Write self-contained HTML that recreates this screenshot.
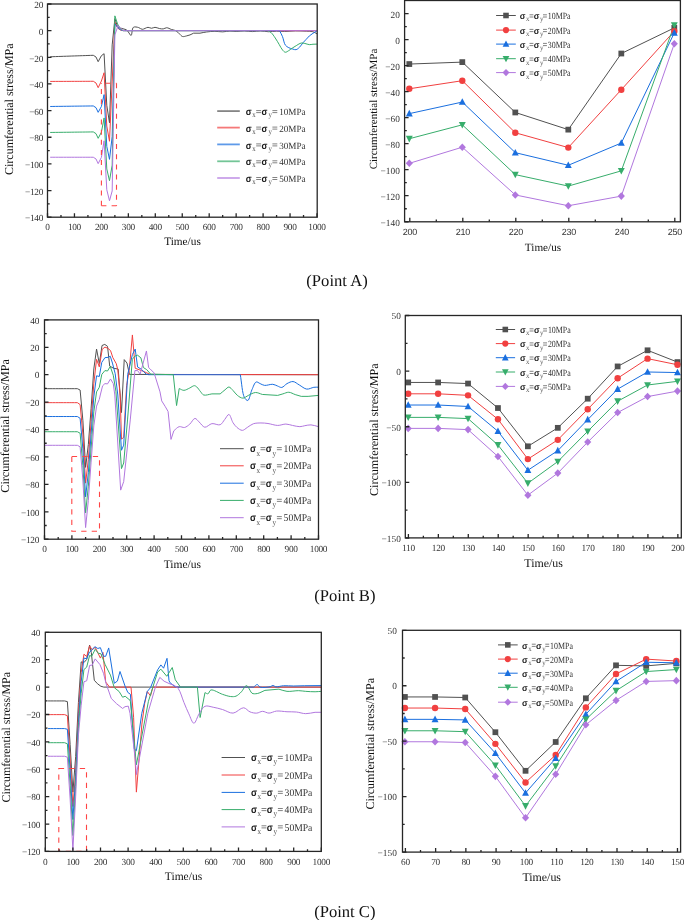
<!DOCTYPE html><html><head><meta charset="utf-8"><style>html,body{margin:0;padding:0;background:#fff;}svg{display:block;text-rendering:geometricPrecision;will-change:transform}</style></head><body>
<svg width="685" height="920" viewBox="0 0 685 920">
<rect width="685" height="920" fill="#fff"/>
<defs>
<clipPath id="cal"><rect x="47.5" y="4" width="269.7" height="213.2"/></clipPath>
<clipPath id="car"><rect x="404.6" y="0.5" width="275.8" height="221.3"/></clipPath>
<clipPath id="cbl"><rect x="44.5" y="319.9" width="274" height="219.3"/></clipPath>
<clipPath id="cbr"><rect x="405.3" y="315.5" width="276" height="222.4"/></clipPath>
<clipPath id="ccl"><rect x="45.3" y="632.3" width="276" height="219.1"/></clipPath>
<clipPath id="ccr"><rect x="402.5" y="630.3" width="278.1" height="221.8"/></clipPath>
</defs>
<path d="M50.2,56.77L52.89,56.68L55.59,56.58L58.28,56.49L60.98,56.4L63.67,56.31L66.37,56.22L69.06,56.13L71.75,56.03L74.45,55.94L77.15,55.85L79.84,55.76L82.53,55.67L85.23,55.58L87.93,55.48L90.62,55.39L93.31,55.3L96.01,57.03L98.17,61.7L101.4,55.7L104.09,53.7L106.79,105.27L109.49,122.86L112.18,44.91L114.88,18.66L117.57,26.65L120.27,28.25L121.21,28.25L126.41,29.72L128.35,31.98C129.27,33.14 130.34,35.6 131.1,35.45C132.15,35.24 131.81,28.45 133.39,27.32C134.64,26.42 137.15,27.18 138.7,27.59C140.03,27.93 140.87,29.23 142.2,29.32C143.87,29.42 146.3,27.38 148,27.32C149.3,27.27 150.33,28.25 151.5,28.25C152.67,28.25 153.77,27.31 155,27.32C156.37,27.33 157.93,28.25 159.34,28.52C160.65,28.77 161.96,29.06 163.2,28.92C164.41,28.78 165.45,27.7 166.7,27.72C168.15,27.74 169.82,28.94 171.39,29.45C172.92,29.96 174.64,30.03 176,30.78C177.36,31.54 178.42,32.98 179.56,33.98C180.58,34.88 181.37,36.18 182.49,36.51C183.61,36.84 185.04,36.25 186.29,35.98C187.55,35.71 188.8,35.38 190.01,34.91C191.24,34.45 192.4,33.76 193.6,33.18L200.01,33.18C202.18,32.78 204.2,32.29 206.51,31.98C209.11,31.64 212.12,31.33 214.86,31.32C217.51,31.3 220.12,31.9 222.68,31.85C225.15,31.8 227.62,31.1 229.95,31.05C232.1,31 233.95,31.45 236.15,31.45C238.67,31.45 241.54,30.89 244.24,30.92C246.93,30.94 249.62,31.58 252.32,31.58C255.02,31.58 257.71,30.89 260.4,30.92C263.1,30.94 265.79,31.67 268.49,31.72C271.18,31.76 273.88,31.23 276.58,31.18C279.27,31.14 281.77,31.47 284.66,31.45C288,31.42 291.85,30.96 295.44,30.92C299.03,30.87 303.05,31.02 306.22,31.18C308.73,31.31 311.04,31.16 312.96,31.72C314.53,32.17 315.65,33.14 317,33.85" fill="none" stroke="#515151" stroke-width="1.0" stroke-linejoin="round" clip-path="url(#cal)"/>
<path d="M50.2,81.42L52.89,81.41L55.59,81.4L58.28,81.39L60.98,81.38L63.67,81.38L66.37,81.37L69.06,81.36L71.75,81.35L74.45,81.34L77.15,81.33L79.84,81.33L82.53,81.32L85.23,81.31L87.93,81.3L90.62,81.29L93.31,81.28L96.01,83.02L98.17,87.68L101.4,81.02L104.09,72.76L106.79,126.06L109.49,141.25L112.18,81.95L114.88,21.99L117.57,27.98L120.27,29.98L122.96,30.65L317,30.65" fill="none" stroke="#F14040" stroke-width="1.0" stroke-linejoin="round" clip-path="url(#cal)"/>
<path d="M50.2,106.47L52.89,106.44L55.59,106.4L58.28,106.37L60.98,106.34L63.67,106.3L66.37,106.27L69.06,106.24L71.75,106.2L74.45,106.17L77.15,106.14L79.84,106.1L82.53,106.07L85.23,106.04L87.93,106L90.62,105.97L93.31,105.94L96.01,107.67L98.17,112.33L101.4,106.47L104.09,94.61L106.79,146.44L109.49,159.37L112.18,136.58L114.88,23.72L117.57,27.32L120.27,29.58L122.96,30.65L279.54,30.65C280.53,32.65 281.6,34.45 282.5,36.65C283.55,39.18 283.95,43.15 285.31,45.04C286.26,46.38 287.55,47.04 288.81,47.71C290.03,48.36 291.49,48.7 292.75,49.04C293.87,49.34 294.92,49.92 295.98,49.7C297.18,49.46 298.38,48.34 299.48,47.31C300.78,46.08 301.9,44.04 303.09,42.64C304.14,41.41 305.18,40.42 306.22,39.31C307.25,38.2 308.17,36.98 309.29,35.98C310.42,34.98 311.69,34.17 312.96,33.31C314.26,32.44 315.65,31.63 317,30.78" fill="none" stroke="#1A6FDF" stroke-width="1.0" stroke-linejoin="round" clip-path="url(#cal)"/>
<path d="M50.2,132.45L52.89,132.42L55.59,132.39L58.28,132.35L60.98,132.32L63.67,132.29L66.37,132.25L69.06,132.22L71.75,132.19L74.45,132.15L77.15,132.12L79.84,132.09L82.53,132.05L85.23,132.02L87.93,131.99L90.62,131.95L93.31,131.92L96.01,133.65L98.17,138.32L101.4,132.19L104.09,117.93L106.79,168.96L109.49,180.69L112.18,165.1L114.88,15.86L117.57,23.99L120.27,28.65L122.96,30.65L267.95,30.65C269.03,31.32 270.13,31.69 271.19,32.65C272.58,33.92 273.93,36.07 275.23,37.98C276.63,40.04 278,42.54 279.27,44.64C280.41,46.52 281.34,48.64 282.5,49.97C283.39,50.98 284.29,52.11 285.31,52.24C286.35,52.36 287.54,51.31 288.7,50.64C290.06,49.85 291.52,48.62 292.91,47.71C294.21,46.85 295.45,46.07 296.79,45.31C298.17,44.52 299.67,43.32 301.1,43.04C302.36,42.8 303.58,43.2 304.87,43.44C306.3,43.71 307.88,44.53 309.29,44.64C310.56,44.74 311.7,44.33 312.96,44.24C314.27,44.15 315.65,44.15 317,44.11" fill="none" stroke="#37AD6B" stroke-width="1.0" stroke-linejoin="round" clip-path="url(#cal)"/>
<path d="M50.2,157.24L52.89,157.24L55.59,157.24L58.28,157.24L60.98,157.24L63.67,157.24L66.37,157.24L69.06,157.24L71.75,157.24L74.45,157.24L77.15,157.24L79.84,157.24L82.53,157.24L85.23,157.24L87.93,157.24L90.62,157.24L93.31,157.24L96.01,158.97L98.17,163.63L101.4,157.37L104.09,140.85L106.79,189.75L109.49,200.81L112.18,190.95L114.88,34.91L118.11,25.45L120.27,27.98L122.96,30.38L125.66,30.65L317,30.65" fill="none" stroke="#B177DE" stroke-width="1.0" stroke-linejoin="round" clip-path="url(#cal)"/>
<path d="M101.4 205.7L101.4 83.2" fill="none" stroke="#FF4545" stroke-width="1.1" stroke-dasharray="5,5.15" stroke-dashoffset="0"/>
<path d="M101.4 205.7L116.5 205.7" fill="none" stroke="#FF4545" stroke-width="1.1" stroke-dasharray="5,5.2" stroke-dashoffset="0"/>
<path d="M116.5 83.2L116.5 205.7" fill="none" stroke="#FF4545" stroke-width="1.1" stroke-dasharray="5,5.15" stroke-dashoffset="0"/>
<path d="M101.4 83.2L116.5 83.2" fill="none" stroke="#FF4545" stroke-width="1.1" stroke-dasharray="5,5.15" stroke-dashoffset="5.85"/>
<polyline points="409.3,64.06 462.3,62.11 515.3,112.46 568.3,129.63 621.3,53.52 674.3,27.89" fill="none" stroke="#515151" stroke-width="1.0" stroke-linejoin="round"/>
<polyline points="409.3,88.78 462.3,80.71 515.3,132.75 568.3,147.58 621.3,89.69 674.3,31.14" fill="none" stroke="#F14040" stroke-width="1.0" stroke-linejoin="round"/>
<polyline points="409.3,113.63 462.3,102.05 515.3,152.66 568.3,165.28 621.3,143.03 674.3,32.83" fill="none" stroke="#1A6FDF" stroke-width="1.0" stroke-linejoin="round"/>
<polyline points="409.3,138.74 462.3,124.82 515.3,174.64 568.3,186.09 621.3,170.87 674.3,25.16" fill="none" stroke="#37AD6B" stroke-width="1.0" stroke-linejoin="round"/>
<polyline points="409.3,163.33 462.3,147.19 515.3,194.94 568.3,205.74 621.3,196.11 674.3,43.76" fill="none" stroke="#B177DE" stroke-width="1.0" stroke-linejoin="round"/>
<rect x="406.42" y="61.18" width="5.76" height="5.76" fill="#515151"/>
<rect x="459.42" y="59.23" width="5.76" height="5.76" fill="#515151"/>
<rect x="512.42" y="109.58" width="5.76" height="5.76" fill="#515151"/>
<rect x="565.42" y="126.75" width="5.76" height="5.76" fill="#515151"/>
<rect x="618.42" y="50.64" width="5.76" height="5.76" fill="#515151"/>
<rect x="671.42" y="25.01" width="5.76" height="5.76" fill="#515151"/>
<circle cx="409.3" cy="88.78" r="3.2" fill="#F14040"/>
<circle cx="462.3" cy="80.71" r="3.2" fill="#F14040"/>
<circle cx="515.3" cy="132.75" r="3.2" fill="#F14040"/>
<circle cx="568.3" cy="147.58" r="3.2" fill="#F14040"/>
<circle cx="621.3" cy="89.69" r="3.2" fill="#F14040"/>
<circle cx="674.3" cy="31.14" r="3.2" fill="#F14040"/>
<path d="M409.3 109.85L412.76 116.44L405.84 116.44Z" fill="#1A6FDF"/>
<path d="M462.3 98.27L465.76 104.86L458.84 104.86Z" fill="#1A6FDF"/>
<path d="M515.3 148.88L518.76 155.47L511.84 155.47Z" fill="#1A6FDF"/>
<path d="M568.3 161.5L571.76 168.09L564.84 168.09Z" fill="#1A6FDF"/>
<path d="M621.3 139.25L624.76 145.85L617.84 145.85Z" fill="#1A6FDF"/>
<path d="M674.3 29.06L677.76 35.65L670.84 35.65Z" fill="#1A6FDF"/>
<path d="M409.3 142.42L412.76 135.86L405.84 135.86Z" fill="#37AD6B"/>
<path d="M462.3 128.5L465.76 121.94L458.84 121.94Z" fill="#37AD6B"/>
<path d="M515.3 178.32L518.76 171.76L511.84 171.76Z" fill="#37AD6B"/>
<path d="M568.3 189.77L571.76 183.21L564.84 183.21Z" fill="#37AD6B"/>
<path d="M621.3 174.55L624.76 167.99L617.84 167.99Z" fill="#37AD6B"/>
<path d="M674.3 28.84L677.76 22.28L670.84 22.28Z" fill="#37AD6B"/>
<path d="M409.3 159.55L412.88 163.33L409.3 167.1L405.72 163.33Z" fill="#B177DE"/>
<path d="M462.3 143.42L465.88 147.19L462.3 150.97L458.72 147.19Z" fill="#B177DE"/>
<path d="M515.3 191.16L518.88 194.94L515.3 198.72L511.72 194.94Z" fill="#B177DE"/>
<path d="M568.3 201.96L571.88 205.74L568.3 209.51L564.72 205.74Z" fill="#B177DE"/>
<path d="M621.3 192.33L624.88 196.11L621.3 199.89L617.72 196.11Z" fill="#B177DE"/>
<path d="M674.3 39.99L677.88 43.76L674.3 47.54L670.72 43.76Z" fill="#B177DE"/>
<path d="M44.5,388.68L47.24,388.68L49.98,388.68L52.72,388.68L55.46,388.68L58.2,388.68L60.94,388.68L63.68,388.68L66.42,388.68L69.16,388.68L71.9,388.68L74.64,388.68L77.38,388.68L80.12,390.06L82.86,420.22L85.6,467.38L88.34,444.62L91.08,408.7L93.82,368.94L96.56,349.06L99.3,363.59L102.04,345.5L104.78,344.4L107.52,346.32L109.71,366.06L113.55,368.26L118.21,369.08L121.49,412.54L124.23,359.62L126.97,363.05L129.44,374.43L318.5,374.7" fill="none" stroke="#515151" stroke-width="1.0" stroke-linejoin="round" clip-path="url(#cbl)"/>
<path d="M44.5,402.67L47.24,402.67L49.98,402.67L52.72,402.67L55.46,402.67L58.2,402.67L60.94,402.67L63.68,402.67L66.42,402.67L69.16,402.67L71.9,402.67L74.64,402.67L77.38,402.67L80.12,404.59L82.86,434.06L85.6,483.15L88.34,459.43L91.08,421.73L93.82,383.47L96.56,359.34L99.3,366.89L102.2,349.34L104.92,347.14L107.79,348.24L110.53,350.57L112.89,357.7L116.29,363.73L117.8,369.9L120.12,394.99L121.49,439.14L123.69,437.35L126.59,385.67L129.17,370.59L132.4,334.94L135.19,368.26L141.5,370.59L146.7,372.78L149.99,374.43L318.5,374.7" fill="none" stroke="#F14040" stroke-width="1.0" stroke-linejoin="round" clip-path="url(#cbl)"/>
<path d="M44.5,416.52L47.24,416.52L49.98,416.52L52.72,416.52L55.46,416.52L58.2,416.52L60.94,416.52L63.68,416.52L66.42,416.52L69.16,416.52L71.9,416.52L74.64,416.52L77.38,416.52L80.12,418.3L82.86,448.87L85.6,496.86L88.34,472.73L91.08,434.48L93.82,396.91L96.56,375.8L99.3,376.48L101.77,362.36L104.92,357.7L108.34,357.29L110.26,356.19L112.45,363.05L115.19,373.74L117.8,394.99L121.49,450.24L123.69,445.17L127.69,374.43L132.4,354.55L135.19,349.06L137.61,367.02L141.5,369.35L146.1,374.15L148.62,374.7L240.3,374.7C241.67,382.29 242.22,393.56 244.41,397.46C245.38,399.19 246.78,400.73 247.81,400.47C249.44,400.08 250.42,393.02 251.92,389.78C253.24,386.92 254.49,382.56 256.19,381.97C257.37,381.55 258.79,383.06 260.14,383.61C261.56,384.2 262.8,385.17 264.52,385.39C266.8,385.68 270.41,384.06 272.74,384.3C274.54,384.48 275.87,385.41 277.4,385.94C278.88,386.46 280.32,387.67 281.78,387.45C283.51,387.19 285.11,384.6 286.99,383.61C288.86,382.64 291.02,381.39 293.02,381.56C295.14,381.73 297.14,383.78 299.32,384.98C301.69,386.29 304.21,388.76 306.72,389.1C309.06,389.4 311.7,387.61 313.84,387.31C315.54,387.08 316.95,387.22 318.5,387.18" fill="none" stroke="#1A6FDF" stroke-width="1.0" stroke-linejoin="round" clip-path="url(#cbl)"/>
<path d="M44.5,431.73L47.24,431.73L49.98,431.73L52.72,431.73L55.46,431.73L58.2,431.73L60.94,431.73L63.68,431.73L66.42,431.73L69.16,431.73L71.9,431.73L74.64,431.73L77.38,431.73L80.12,433.24L82.86,465.73L85.6,512.9L88.34,486.16L91.08,448.87L93.82,411.85L96.56,391.84L99.3,387.31L101.77,374.43L104.92,370.59L107.52,371L110.26,366.47L113.27,375.25L115.9,391.15L121.49,468.61L123.69,462.99L127.52,419.94L132.34,359.21L135.19,355.92L137.61,355.23L140.89,357.84L143.41,367.57L146.7,369.63L150.7,374.15L173.28,374.7L176.57,405.55L179.2,388.55C180.77,389.14 182.26,390.35 183.91,390.33C185.75,390.31 187.91,388.81 189.72,388C191.37,387.25 193.09,385.65 194.38,385.67C195.29,385.68 195.9,386.24 196.71,386.9C197.96,387.93 199.42,390.4 200.68,391.84C201.73,393.03 202.28,394.49 203.69,394.99C205.65,395.68 209.17,394.26 211.91,393.89L220.13,393.89C221.78,392.52 223.5,390.99 225.07,389.78C226.4,388.75 227.62,386.99 228.9,387.04C230.27,387.09 231.67,389.16 233.01,390.47C234.51,391.91 235.71,394.11 237.4,395.4C239.02,396.65 241.03,398.14 242.88,398.14C244.77,398.14 246.61,396.17 248.63,395.26C250.79,394.29 253.18,392.65 255.48,392.52C257.74,392.4 260.05,393.8 262.33,394.44L277.67,395.4C279.41,394.9 281.09,394.4 282.88,393.89C284.79,393.35 286.8,392.17 288.8,392.25C290.91,392.33 293.1,393.88 295.21,394.58C297.24,395.25 299.23,395.77 301.24,396.36L308.09,396.36C311.56,396.04 315.03,395.72 318.5,395.4" fill="none" stroke="#37AD6B" stroke-width="1.0" stroke-linejoin="round" clip-path="url(#cbl)"/>
<path d="M44.5,445.31L47.24,445.31L49.98,445.31L52.72,445.31L55.46,445.31L58.2,445.31L60.94,445.31L63.68,445.31L66.42,445.31L69.16,445.31L71.9,445.31L74.64,445.31L77.38,445.31L80.12,446.81L82.86,479.99L85.6,527.57L88.34,500.42L91.08,462.17L93.82,425.84L96.56,406.1L99.3,399.38L100.29,394.99L102.59,385.81L104.92,383.61L107.52,383.89L110.53,378.95L113.27,383.61L114.81,394.99L120.67,490.14L123.69,481.64L130.26,419.94L134.92,370.59L137.61,370.59L140.13,374.15L146.43,350.98L148.62,367.57L149.99,368.8L154.1,372.92L159.99,391.84L161.69,400.89L165.06,406.23L168.07,411.44L171.01,439.41L173.83,430.77C175.62,429.4 177.3,427.14 179.2,426.66C180.89,426.23 182.81,427.84 184.51,427.48C186.33,427.11 188.07,425.58 189.72,424.19C191.57,422.64 193.24,418.55 194.93,418.43C196.33,418.34 197.57,420.57 199.04,421.86C200.81,423.43 202.65,426.9 204.79,427.21C206.94,427.52 209.39,424.07 211.91,423.64C214.49,423.21 217.96,425.56 220.13,424.74C222.12,423.99 223.2,421.27 224.68,419.53C226.13,417.84 227.61,414.31 228.9,414.46C230.43,414.64 231.53,420.4 233.01,422.69C234.22,424.54 235.31,426.07 236.85,427.35C238.41,428.64 240.56,430.38 242.33,430.36C244.02,430.34 245.54,428.51 247.26,427.48C249.17,426.34 251.06,424.54 253.29,423.78C255.61,422.99 258.46,423 260.96,422.96C263.36,422.92 265.48,423.16 268,423.51C270.98,423.92 274.58,425.38 277.67,425.43C280.52,425.47 283.31,424 285.89,424.06C288.21,424.1 290.21,425 292.47,425.43C294.86,425.88 297.65,426.69 299.87,426.66C301.68,426.64 303.06,425.99 304.8,425.7C306.74,425.38 308.84,424.77 310.99,424.88C313.39,425 316,426.07 318.5,426.66" fill="none" stroke="#B177DE" stroke-width="1.0" stroke-linejoin="round" clip-path="url(#cbl)"/>
<path d="M71.8 456.5H99.5V531.3H71.8Z" fill="none" stroke="#FF4545" stroke-width="1.1" stroke-dasharray="5.3,5.2"/>
<polyline points="408.2,382.45 438.12,382.45 468.04,383.56 497.96,408.04 527.88,446.31 557.8,427.84 587.72,398.69 617.64,366.43 647.56,350.3 677.48,362.09" fill="none" stroke="#515151" stroke-width="1.0" stroke-linejoin="round"/>
<polyline points="408.2,393.8 438.12,393.8 468.04,395.35 497.96,419.27 527.88,459.1 557.8,439.85 587.72,409.26 617.64,378.22 647.56,358.64 677.48,364.76" fill="none" stroke="#F14040" stroke-width="1.0" stroke-linejoin="round"/>
<polyline points="408.2,405.03 438.12,405.03 468.04,406.48 497.96,431.29 527.88,470.22 557.8,450.64 587.72,419.61 617.64,389.12 647.56,371.99 677.48,372.55" fill="none" stroke="#1A6FDF" stroke-width="1.0" stroke-linejoin="round"/>
<polyline points="408.2,417.38 438.12,417.38 468.04,418.6 497.96,444.97 527.88,483.24 557.8,461.55 587.72,431.29 617.64,401.25 647.56,385.01 677.48,381.34" fill="none" stroke="#37AD6B" stroke-width="1.0" stroke-linejoin="round"/>
<polyline points="408.2,428.39 438.12,428.39 468.04,429.62 497.96,456.54 527.88,495.14 557.8,473.12 587.72,442.08 617.64,412.6 647.56,396.58 677.48,391.12" fill="none" stroke="#B177DE" stroke-width="1.0" stroke-linejoin="round"/>
<rect x="405.32" y="379.57" width="5.76" height="5.76" fill="#515151"/>
<rect x="435.24" y="379.57" width="5.76" height="5.76" fill="#515151"/>
<rect x="465.16" y="380.68" width="5.76" height="5.76" fill="#515151"/>
<rect x="495.08" y="405.16" width="5.76" height="5.76" fill="#515151"/>
<rect x="525" y="443.43" width="5.76" height="5.76" fill="#515151"/>
<rect x="554.92" y="424.96" width="5.76" height="5.76" fill="#515151"/>
<rect x="584.84" y="395.81" width="5.76" height="5.76" fill="#515151"/>
<rect x="614.76" y="363.55" width="5.76" height="5.76" fill="#515151"/>
<rect x="644.68" y="347.42" width="5.76" height="5.76" fill="#515151"/>
<rect x="674.6" y="359.21" width="5.76" height="5.76" fill="#515151"/>
<circle cx="408.2" cy="393.8" r="3.2" fill="#F14040"/>
<circle cx="438.12" cy="393.8" r="3.2" fill="#F14040"/>
<circle cx="468.04" cy="395.35" r="3.2" fill="#F14040"/>
<circle cx="497.96" cy="419.27" r="3.2" fill="#F14040"/>
<circle cx="527.88" cy="459.1" r="3.2" fill="#F14040"/>
<circle cx="557.8" cy="439.85" r="3.2" fill="#F14040"/>
<circle cx="587.72" cy="409.26" r="3.2" fill="#F14040"/>
<circle cx="617.64" cy="378.22" r="3.2" fill="#F14040"/>
<circle cx="647.56" cy="358.64" r="3.2" fill="#F14040"/>
<circle cx="677.48" cy="364.76" r="3.2" fill="#F14040"/>
<path d="M408.2 401.26L411.66 407.85L404.74 407.85Z" fill="#1A6FDF"/>
<path d="M438.12 401.26L441.58 407.85L434.66 407.85Z" fill="#1A6FDF"/>
<path d="M468.04 402.7L471.5 409.29L464.58 409.29Z" fill="#1A6FDF"/>
<path d="M497.96 427.51L501.42 434.1L494.5 434.1Z" fill="#1A6FDF"/>
<path d="M527.88 466.45L531.34 473.04L524.42 473.04Z" fill="#1A6FDF"/>
<path d="M557.8 446.87L561.26 453.46L554.34 453.46Z" fill="#1A6FDF"/>
<path d="M587.72 415.83L591.18 422.42L584.26 422.42Z" fill="#1A6FDF"/>
<path d="M617.64 385.35L621.1 391.94L614.18 391.94Z" fill="#1A6FDF"/>
<path d="M647.56 368.21L651.02 374.81L644.1 374.81Z" fill="#1A6FDF"/>
<path d="M677.48 368.77L680.94 375.36L674.02 375.36Z" fill="#1A6FDF"/>
<path d="M408.2 421.06L411.66 414.5L404.74 414.5Z" fill="#37AD6B"/>
<path d="M438.12 421.06L441.58 414.5L434.66 414.5Z" fill="#37AD6B"/>
<path d="M468.04 422.28L471.5 415.72L464.58 415.72Z" fill="#37AD6B"/>
<path d="M497.96 448.65L501.42 442.09L494.5 442.09Z" fill="#37AD6B"/>
<path d="M527.88 486.92L531.34 480.36L524.42 480.36Z" fill="#37AD6B"/>
<path d="M557.8 465.23L561.26 458.67L554.34 458.67Z" fill="#37AD6B"/>
<path d="M587.72 434.97L591.18 428.41L584.26 428.41Z" fill="#37AD6B"/>
<path d="M617.64 404.93L621.1 398.37L614.18 398.37Z" fill="#37AD6B"/>
<path d="M647.56 388.69L651.02 382.13L644.1 382.13Z" fill="#37AD6B"/>
<path d="M677.48 385.02L680.94 378.46L674.02 378.46Z" fill="#37AD6B"/>
<path d="M408.2 424.62L411.78 428.39L408.2 432.17L404.62 428.39Z" fill="#B177DE"/>
<path d="M438.12 424.62L441.7 428.39L438.12 432.17L434.54 428.39Z" fill="#B177DE"/>
<path d="M468.04 425.84L471.62 429.62L468.04 433.39L464.46 429.62Z" fill="#B177DE"/>
<path d="M497.96 452.76L501.54 456.54L497.96 460.32L494.38 456.54Z" fill="#B177DE"/>
<path d="M527.88 491.37L531.46 495.14L527.88 498.92L524.3 495.14Z" fill="#B177DE"/>
<path d="M557.8 469.34L561.38 473.12L557.8 476.89L554.22 473.12Z" fill="#B177DE"/>
<path d="M587.72 438.3L591.3 442.08L587.72 445.85L584.14 442.08Z" fill="#B177DE"/>
<path d="M617.64 408.82L621.22 412.6L617.64 416.37L614.06 412.6Z" fill="#B177DE"/>
<path d="M647.56 392.8L651.14 396.58L647.56 400.35L643.98 396.58Z" fill="#B177DE"/>
<path d="M677.48 387.35L681.06 391.12L677.48 394.9L673.9 391.12Z" fill="#B177DE"/>
<path d="M48.06,700.93L50.82,700.93L53.58,700.93L56.34,700.93L59.1,700.93L61.86,700.93L64.62,700.93L67.38,701.62L70.14,744.48L72.9,792.13L75.66,756.53L78.42,702.57L81.18,661.9L83.94,662.59L86.7,659.44L89.6,645.06L91.31,652.45L94.29,680.25L97.41,683.68L100.89,686.28L103.81,687.1L321.3,687.1" fill="none" stroke="#515151" stroke-width="1.0" stroke-linejoin="round" clip-path="url(#ccl)"/>
<path d="M48.06,714.62L50.82,714.62L53.58,714.62L56.34,714.62L59.1,714.62L61.86,714.62L64.62,714.62L67.38,715.72L70.14,758.86L72.9,806.51L75.66,772.55L78.42,713.8L81.18,672.58L83.94,654.23L86.7,656.56L89.6,645.88L92.19,649.85L95.2,647.25L100.39,658.07L102.98,652.45L105.69,682.03L109.61,687.1L131,687.1L133.62,717.23L136.38,792.13L139.14,758.31L141.9,724.07L144.66,703.53L147.31,691.48L150.51,695.86L152.94,687.1L321.3,687.1" fill="none" stroke="#F14040" stroke-width="1.0" stroke-linejoin="round" clip-path="url(#ccl)"/>
<path d="M48.06,728.59L50.82,728.59L53.58,728.59L56.34,728.59L59.1,728.59L61.86,728.59L64.62,728.59L67.38,729.28L70.14,770.36L72.9,819.52L75.66,776.66L78.42,722.29L81.18,681.76L83.94,658.07L86.7,658.75L89.1,652.87L94.79,646.7L97.8,648.48L100.39,647.66L103.51,656.29L105.69,656.29L108.7,647.94L114.3,683.27L117.39,681.07L120.01,671.49L125.06,686.14L127.8,692.44L130.39,694.22L134.2,748.86L136.38,750.78L141.79,713.26L147.31,691.48L150.51,687.65L157.6,669.85L160.89,664.92L163.59,668.2L167.02,658.34L169,680.66L170,682.72L174.99,686.55L177.78,687.1L253.68,687.1C254.88,686.23 256.18,684.43 257.27,684.5C258.28,684.56 258.67,686.59 260.03,687.1C262.26,687.93 267.95,687.23 270.24,686.69C271.49,686.4 272.08,685.44 273,685.46C273.92,685.48 274.57,686.63 275.76,686.83C277.65,687.13 280.73,685.89 283.49,685.73C286.65,685.55 290.23,686 293.7,686C297.31,686.01 301.06,685.82 304.74,685.73L321.3,685.59" fill="none" stroke="#1A6FDF" stroke-width="1.0" stroke-linejoin="round" clip-path="url(#ccl)"/>
<path d="M48.06,742.7L50.82,742.7L53.58,742.7L56.34,742.7L59.1,742.7L61.86,742.7L64.62,742.7L67.38,743.79L70.14,785.29L72.9,835.54L75.66,786.38L78.42,728.73L81.18,693.26L83.94,669.57L86.7,667.11L89.6,655.47L91.7,656.29L95.2,649.3L98.29,653.28L100.89,653.69L105.19,664.64L110.41,675.05L114.3,687.65L119.1,691.48L122.61,697.23L125.2,696.27L130,700.25L130.39,701.34L135.91,759.95L136.38,764.74L148.41,701.34L157.6,672.04L160.89,669.16L166.8,676.28L172.26,667.52L175.3,679.84L180.51,687.1L197.38,687.1L200.11,717.5L204.99,692.58C206,692.99 207.09,694.06 208,693.81C209.11,693.51 209.38,690.42 210.9,689.98C213.35,689.26 219.04,693.21 222.6,694.36C225.52,695.3 228.26,696.32 230.69,696.55C232.63,696.73 234.35,696.79 236.02,696.14C237.88,695.41 239.55,693.65 241.2,692.03C243.06,690.21 244.94,685.56 246.5,685.59C247.81,685.62 249.02,688.85 250.01,690.25C250.78,691.35 250.98,692.68 252,693.26C253.23,693.97 255.39,693.86 257.27,693.54C259.62,693.13 262.36,691.44 264.91,690.39L278.91,689.15C281.6,689.88 284.02,691.04 286.99,691.35C290.51,691.71 295.29,690.59 298.7,690.66C301.33,690.71 303.2,691.17 305.71,691.35C308.6,691.55 312.28,691.79 315.09,691.76C317.37,691.73 319.23,691.48 321.3,691.35" fill="none" stroke="#37AD6B" stroke-width="1.0" stroke-linejoin="round" clip-path="url(#ccl)"/>
<path d="M48.06,756.25L50.82,756.25L53.58,756.25L56.34,756.25L59.1,756.25L61.86,756.25L64.62,756.25L67.38,757.21L70.14,798.98L72.9,850.2L75.66,796.38L78.42,735.3L81.18,705.18L83.94,681.76L86.7,680.8L89.6,665.46L92.19,665.05L95.2,658.89L100,664.64L103.51,673.27L106.1,683.68L111.29,698.47L116.51,703.67L122.61,708.46L125.01,706.68L128.29,706.13L130,713.26L135.28,759.95L136.38,774.6L147.81,713.26L155.4,687.1L159.81,677.38L164.09,681.21L170,683.95L173.5,685.05C175.07,686.19 176.77,686.66 178.19,688.47C180.5,691.41 182.13,698.15 183.99,702.57C185.66,706.54 187.11,710.26 188.82,713.8C190.42,717.13 192.18,723.24 193.9,723.25C195.64,723.26 197.27,716.58 199.2,713.67C200.99,710.96 202.55,707.29 204.99,706.27C207.28,705.32 210.38,706.72 213.19,707.23C216.24,707.78 219.4,708.62 222.6,709.56C226.02,710.56 229.64,713.36 233.09,713.12C236.65,712.86 240.57,707.63 243.61,707.78C246.04,707.9 247.76,711 250.01,711.89C252.14,712.73 254.58,713.24 256.72,713.12C258.73,713 260.52,711.37 262.51,711.34C264.61,711.31 266.76,713.12 269,713.12C271.41,713.12 273.77,711.34 276.51,711.06C279.69,710.74 283.59,711.59 286.99,711.75C290.21,711.9 293.29,711.7 296.4,712.02C299.53,712.34 302.59,713.62 305.71,713.67C308.82,713.71 311.96,712.75 315.09,712.3L321.3,712.3" fill="none" stroke="#B177DE" stroke-width="1.0" stroke-linejoin="round" clip-path="url(#ccl)"/>
<path d="M58.8 768.5H86.5V851.4H58.8Z" fill="none" stroke="#FF4545" stroke-width="1.1" stroke-dasharray="5.3,5.2"/>
<polyline points="404.9,696.95 435.06,696.95 465.22,697.51 495.38,732.22 525.54,770.81 555.7,741.98 585.86,698.28 616.02,665.34 646.18,665.9 676.34,663.35" fill="none" stroke="#515151" stroke-width="1.0" stroke-linejoin="round"/>
<polyline points="404.9,708.04 435.06,708.04 465.22,708.93 495.38,743.86 525.54,782.45 555.7,754.95 585.86,707.38 616.02,673.99 646.18,659.13 676.34,661.02" fill="none" stroke="#F14040" stroke-width="1.0" stroke-linejoin="round"/>
<polyline points="404.9,719.35 435.06,719.35 465.22,719.91 495.38,753.18 525.54,792.99 555.7,758.28 585.86,714.25 616.02,681.42 646.18,662.24 676.34,662.79" fill="none" stroke="#1A6FDF" stroke-width="1.0" stroke-linejoin="round"/>
<polyline points="404.9,730.78 435.06,730.78 465.22,731.66 495.38,765.27 525.54,805.97 555.7,766.15 585.86,719.46 616.02,690.74 646.18,671.55 676.34,669.56" fill="none" stroke="#37AD6B" stroke-width="1.0" stroke-linejoin="round"/>
<polyline points="404.9,741.75 435.06,741.75 465.22,742.53 495.38,776.36 525.54,817.83 555.7,774.25 585.86,724.79 616.02,700.39 646.18,681.42 676.34,680.65" fill="none" stroke="#B177DE" stroke-width="1.0" stroke-linejoin="round"/>
<rect x="402.02" y="694.07" width="5.76" height="5.76" fill="#515151"/>
<rect x="432.18" y="694.07" width="5.76" height="5.76" fill="#515151"/>
<rect x="462.34" y="694.63" width="5.76" height="5.76" fill="#515151"/>
<rect x="492.5" y="729.34" width="5.76" height="5.76" fill="#515151"/>
<rect x="522.66" y="767.93" width="5.76" height="5.76" fill="#515151"/>
<rect x="552.82" y="739.1" width="5.76" height="5.76" fill="#515151"/>
<rect x="582.98" y="695.4" width="5.76" height="5.76" fill="#515151"/>
<rect x="613.14" y="662.46" width="5.76" height="5.76" fill="#515151"/>
<rect x="643.3" y="663.02" width="5.76" height="5.76" fill="#515151"/>
<rect x="673.46" y="660.47" width="5.76" height="5.76" fill="#515151"/>
<circle cx="404.9" cy="708.04" r="3.2" fill="#F14040"/>
<circle cx="435.06" cy="708.04" r="3.2" fill="#F14040"/>
<circle cx="465.22" cy="708.93" r="3.2" fill="#F14040"/>
<circle cx="495.38" cy="743.86" r="3.2" fill="#F14040"/>
<circle cx="525.54" cy="782.45" r="3.2" fill="#F14040"/>
<circle cx="555.7" cy="754.95" r="3.2" fill="#F14040"/>
<circle cx="585.86" cy="707.38" r="3.2" fill="#F14040"/>
<circle cx="616.02" cy="673.99" r="3.2" fill="#F14040"/>
<circle cx="646.18" cy="659.13" r="3.2" fill="#F14040"/>
<circle cx="676.34" cy="661.02" r="3.2" fill="#F14040"/>
<path d="M404.9 715.58L408.36 722.17L401.44 722.17Z" fill="#1A6FDF"/>
<path d="M435.06 715.58L438.52 722.17L431.6 722.17Z" fill="#1A6FDF"/>
<path d="M465.22 716.13L468.68 722.72L461.76 722.72Z" fill="#1A6FDF"/>
<path d="M495.38 749.4L498.84 755.99L491.92 755.99Z" fill="#1A6FDF"/>
<path d="M525.54 789.21L529 795.81L522.08 795.81Z" fill="#1A6FDF"/>
<path d="M555.7 754.5L559.16 761.09L552.24 761.09Z" fill="#1A6FDF"/>
<path d="M585.86 710.48L589.32 717.07L582.4 717.07Z" fill="#1A6FDF"/>
<path d="M616.02 677.65L619.48 684.24L612.56 684.24Z" fill="#1A6FDF"/>
<path d="M646.18 658.46L649.64 665.06L642.72 665.06Z" fill="#1A6FDF"/>
<path d="M676.34 659.02L679.8 665.61L672.88 665.61Z" fill="#1A6FDF"/>
<path d="M404.9 734.46L408.36 727.9L401.44 727.9Z" fill="#37AD6B"/>
<path d="M435.06 734.46L438.52 727.9L431.6 727.9Z" fill="#37AD6B"/>
<path d="M465.22 735.34L468.68 728.78L461.76 728.78Z" fill="#37AD6B"/>
<path d="M495.38 768.95L498.84 762.39L491.92 762.39Z" fill="#37AD6B"/>
<path d="M525.54 809.65L529 803.09L522.08 803.09Z" fill="#37AD6B"/>
<path d="M555.7 769.83L559.16 763.27L552.24 763.27Z" fill="#37AD6B"/>
<path d="M585.86 723.14L589.32 716.58L582.4 716.58Z" fill="#37AD6B"/>
<path d="M616.02 694.42L619.48 687.86L612.56 687.86Z" fill="#37AD6B"/>
<path d="M646.18 675.23L649.64 668.67L642.72 668.67Z" fill="#37AD6B"/>
<path d="M676.34 673.24L679.8 666.68L672.88 666.68Z" fill="#37AD6B"/>
<path d="M404.9 737.98L408.48 741.75L404.9 745.53L401.32 741.75Z" fill="#B177DE"/>
<path d="M435.06 737.98L438.64 741.75L435.06 745.53L431.48 741.75Z" fill="#B177DE"/>
<path d="M465.22 738.75L468.8 742.53L465.22 746.31L461.64 742.53Z" fill="#B177DE"/>
<path d="M495.38 772.58L498.96 776.36L495.38 780.13L491.8 776.36Z" fill="#B177DE"/>
<path d="M525.54 814.06L529.12 817.83L525.54 821.61L521.96 817.83Z" fill="#B177DE"/>
<path d="M555.7 770.47L559.28 774.25L555.7 778.02L552.12 774.25Z" fill="#B177DE"/>
<path d="M585.86 721.01L589.44 724.79L585.86 728.56L582.28 724.79Z" fill="#B177DE"/>
<path d="M616.02 696.61L619.6 700.39L616.02 704.16L612.44 700.39Z" fill="#B177DE"/>
<path d="M646.18 677.65L649.76 681.42L646.18 685.2L642.6 681.42Z" fill="#B177DE"/>
<path d="M676.34 676.87L679.92 680.65L676.34 684.42L672.76 680.65Z" fill="#B177DE"/>
<rect x="47.5" y="4" width="269.7" height="213.2" fill="none" stroke="#262626" stroke-width="1.3"/>
<path d="M47.5 217.2V213.2M74.45 217.2V213.2M101.4 217.2V213.2M128.35 217.2V213.2M155.3 217.2V213.2M182.25 217.2V213.2M209.2 217.2V213.2M236.15 217.2V213.2M263.1 217.2V213.2M290.05 217.2V213.2M317 217.2V213.2M60.98 217.2V215M87.93 217.2V215M114.88 217.2V215M141.82 217.2V215M168.78 217.2V215M195.73 217.2V215M222.68 217.2V215M249.62 217.2V215M276.58 217.2V215M303.53 217.2V215M47.5 217.2H51.5M47.5 190.55H51.5M47.5 163.9H51.5M47.5 137.25H51.5M47.5 110.6H51.5M47.5 83.95H51.5M47.5 57.3H51.5M47.5 30.65H51.5M47.5 4H51.5M47.5 203.88H49.7M47.5 177.22H49.7M47.5 150.57H49.7M47.5 123.93H49.7M47.5 97.28H49.7M47.5 70.62H49.7M47.5 43.97H49.7M47.5 17.32H49.7" stroke="#262626" stroke-width="1.3" fill="none"/>
<rect x="404.6" y="0.5" width="275.8" height="221.3" fill="none" stroke="#262626" stroke-width="1.3"/>
<path d="M409.8 221.8V217.8M462.8 221.8V217.8M515.8 221.8V217.8M568.8 221.8V217.8M621.8 221.8V217.8M674.8 221.8V217.8M436.3 221.8V219.6M489.3 221.8V219.6M542.3 221.8V219.6M595.3 221.8V219.6M648.3 221.8V219.6M404.6 221.74H408.6M404.6 195.72H408.6M404.6 169.7H408.6M404.6 143.68H408.6M404.6 117.66H408.6M404.6 91.64H408.6M404.6 65.62H408.6M404.6 39.6H408.6M404.6 13.58H408.6M404.6 208.73H406.8M404.6 182.71H406.8M404.6 156.69H406.8M404.6 130.67H406.8M404.6 104.65H406.8M404.6 78.63H406.8M404.6 52.61H406.8M404.6 26.59H406.8" stroke="#262626" stroke-width="1.3" fill="none"/>
<rect x="44.5" y="319.9" width="274" height="219.3" fill="none" stroke="#262626" stroke-width="1.3"/>
<path d="M44.5 539.2V535.2M71.9 539.2V535.2M99.3 539.2V535.2M126.7 539.2V535.2M154.1 539.2V535.2M181.5 539.2V535.2M208.9 539.2V535.2M236.3 539.2V535.2M263.7 539.2V535.2M291.1 539.2V535.2M318.5 539.2V535.2M58.2 539.2V537M85.6 539.2V537M113 539.2V537M140.4 539.2V537M167.8 539.2V537M195.2 539.2V537M222.6 539.2V537M250 539.2V537M277.4 539.2V537M304.8 539.2V537M44.5 539.22H48.5M44.5 511.8H48.5M44.5 484.38H48.5M44.5 456.96H48.5M44.5 429.54H48.5M44.5 402.12H48.5M44.5 374.7H48.5M44.5 347.28H48.5M44.5 319.86H48.5M44.5 525.51H46.7M44.5 498.09H46.7M44.5 470.67H46.7M44.5 443.25H46.7M44.5 415.83H46.7M44.5 388.41H46.7M44.5 360.99H46.7M44.5 333.57H46.7" stroke="#262626" stroke-width="1.3" fill="none"/>
<rect x="405.3" y="315.5" width="276" height="222.4" fill="none" stroke="#262626" stroke-width="1.3"/>
<path d="M408.4 537.9V533.9M438.34 537.9V533.9M468.28 537.9V533.9M498.22 537.9V533.9M528.16 537.9V533.9M558.1 537.9V533.9M588.04 537.9V533.9M617.98 537.9V533.9M647.92 537.9V533.9M677.86 537.9V533.9M423.37 537.9V535.7M453.31 537.9V535.7M483.25 537.9V535.7M513.19 537.9V535.7M543.13 537.9V535.7M573.07 537.9V535.7M603.01 537.9V535.7M632.95 537.9V535.7M662.89 537.9V535.7M405.3 537.98H409.3M405.3 482.35H409.3M405.3 426.73H409.3M405.3 371.1H409.3M405.3 315.48H409.3M405.3 510.16H407.5M405.3 454.54H407.5M405.3 398.91H407.5M405.3 343.29H407.5" stroke="#262626" stroke-width="1.3" fill="none"/>
<rect x="45.3" y="632.3" width="276" height="219.1" fill="none" stroke="#262626" stroke-width="1.3"/>
<path d="M45.3 851.4V847.4M72.9 851.4V847.4M100.5 851.4V847.4M128.1 851.4V847.4M155.7 851.4V847.4M183.3 851.4V847.4M210.9 851.4V847.4M238.5 851.4V847.4M266.1 851.4V847.4M293.7 851.4V847.4M321.3 851.4V847.4M59.1 851.4V849.2M86.7 851.4V849.2M114.3 851.4V849.2M141.9 851.4V849.2M169.5 851.4V849.2M197.1 851.4V849.2M224.7 851.4V849.2M252.3 851.4V849.2M279.9 851.4V849.2M307.5 851.4V849.2M45.3 851.43H49.3M45.3 824.04H49.3M45.3 796.65H49.3M45.3 769.26H49.3M45.3 741.88H49.3M45.3 714.49H49.3M45.3 687.1H49.3M45.3 659.71H49.3M45.3 632.32H49.3M45.3 837.73H47.5M45.3 810.35H47.5M45.3 782.96H47.5M45.3 755.57H47.5M45.3 728.18H47.5M45.3 700.79H47.5M45.3 673.41H47.5M45.3 646.02H47.5" stroke="#262626" stroke-width="1.3" fill="none"/>
<rect x="402.5" y="630.3" width="278.1" height="221.8" fill="none" stroke="#262626" stroke-width="1.3"/>
<path d="M405.4 852.1V848.1M435.63 852.1V848.1M465.86 852.1V848.1M496.09 852.1V848.1M526.32 852.1V848.1M556.55 852.1V848.1M586.78 852.1V848.1M617.01 852.1V848.1M647.24 852.1V848.1M677.47 852.1V848.1M420.51 852.1V849.9M450.75 852.1V849.9M480.97 852.1V849.9M511.2 852.1V849.9M541.43 852.1V849.9M571.66 852.1V849.9M601.89 852.1V849.9M632.12 852.1V849.9M662.36 852.1V849.9M402.5 852.1H406.5M402.5 796.65H406.5M402.5 741.2H406.5M402.5 685.75H406.5M402.5 630.3H406.5M402.5 824.38H404.7M402.5 768.92H404.7M402.5 713.48H404.7M402.5 658.02H404.7" stroke="#262626" stroke-width="1.3" fill="none"/>
<text x="47.5" y="229.9" font-size="9.3" text-anchor="middle" font-family='"Liberation Serif", serif' fill="#333" letter-spacing="-0.3">0</text>
<text x="74.45" y="229.9" font-size="9.3" text-anchor="middle" font-family='"Liberation Serif", serif' fill="#333" letter-spacing="-0.3">100</text>
<text x="101.4" y="229.9" font-size="9.3" text-anchor="middle" font-family='"Liberation Serif", serif' fill="#333" letter-spacing="-0.3">200</text>
<text x="128.35" y="229.9" font-size="9.3" text-anchor="middle" font-family='"Liberation Serif", serif' fill="#333" letter-spacing="-0.3">300</text>
<text x="155.3" y="229.9" font-size="9.3" text-anchor="middle" font-family='"Liberation Serif", serif' fill="#333" letter-spacing="-0.3">400</text>
<text x="182.25" y="229.9" font-size="9.3" text-anchor="middle" font-family='"Liberation Serif", serif' fill="#333" letter-spacing="-0.3">500</text>
<text x="209.2" y="229.9" font-size="9.3" text-anchor="middle" font-family='"Liberation Serif", serif' fill="#333" letter-spacing="-0.3">600</text>
<text x="236.15" y="229.9" font-size="9.3" text-anchor="middle" font-family='"Liberation Serif", serif' fill="#333" letter-spacing="-0.3">700</text>
<text x="263.1" y="229.9" font-size="9.3" text-anchor="middle" font-family='"Liberation Serif", serif' fill="#333" letter-spacing="-0.3">800</text>
<text x="290.05" y="229.9" font-size="9.3" text-anchor="middle" font-family='"Liberation Serif", serif' fill="#333" letter-spacing="-0.3">900</text>
<text x="317" y="229.9" font-size="9.3" text-anchor="middle" font-family='"Liberation Serif", serif' fill="#333" letter-spacing="-0.3">1000</text>
<text x="43" y="221.4" font-size="9.3" text-anchor="end" font-family='"Liberation Serif", serif' fill="#333" letter-spacing="-0.3">−140</text>
<text x="43" y="194.75" font-size="9.3" text-anchor="end" font-family='"Liberation Serif", serif' fill="#333" letter-spacing="-0.3">−120</text>
<text x="43" y="168.1" font-size="9.3" text-anchor="end" font-family='"Liberation Serif", serif' fill="#333" letter-spacing="-0.3">−100</text>
<text x="43" y="141.45" font-size="9.3" text-anchor="end" font-family='"Liberation Serif", serif' fill="#333" letter-spacing="-0.3">−80</text>
<text x="43" y="114.8" font-size="9.3" text-anchor="end" font-family='"Liberation Serif", serif' fill="#333" letter-spacing="-0.3">−60</text>
<text x="43" y="88.15" font-size="9.3" text-anchor="end" font-family='"Liberation Serif", serif' fill="#333" letter-spacing="-0.3">−40</text>
<text x="43" y="61.5" font-size="9.3" text-anchor="end" font-family='"Liberation Serif", serif' fill="#333" letter-spacing="-0.3">−20</text>
<text x="43" y="34.85" font-size="9.3" text-anchor="end" font-family='"Liberation Serif", serif' fill="#333" letter-spacing="-0.3">0</text>
<text x="43" y="8.2" font-size="9.3" text-anchor="end" font-family='"Liberation Serif", serif' fill="#333" letter-spacing="-0.3">20</text>
<text x="409.8" y="234.9" font-size="9.0" text-anchor="middle" font-family='"Liberation Sans", sans-serif' fill="#333" letter-spacing="-0.25">200</text>
<text x="462.8" y="234.9" font-size="9.0" text-anchor="middle" font-family='"Liberation Sans", sans-serif' fill="#333" letter-spacing="-0.25">210</text>
<text x="515.8" y="234.9" font-size="9.0" text-anchor="middle" font-family='"Liberation Sans", sans-serif' fill="#333" letter-spacing="-0.25">220</text>
<text x="568.8" y="234.9" font-size="9.0" text-anchor="middle" font-family='"Liberation Sans", sans-serif' fill="#333" letter-spacing="-0.25">230</text>
<text x="621.8" y="234.9" font-size="9.0" text-anchor="middle" font-family='"Liberation Sans", sans-serif' fill="#333" letter-spacing="-0.25">240</text>
<text x="674.8" y="234.9" font-size="9.0" text-anchor="middle" font-family='"Liberation Sans", sans-serif' fill="#333" letter-spacing="-0.25">250</text>
<text x="399.8" y="226.04" font-size="9.3" text-anchor="end" font-family='"Liberation Serif", serif' fill="#333" letter-spacing="0">−140</text>
<text x="399.8" y="200.02" font-size="9.3" text-anchor="end" font-family='"Liberation Serif", serif' fill="#333" letter-spacing="0">−120</text>
<text x="399.8" y="174" font-size="9.3" text-anchor="end" font-family='"Liberation Serif", serif' fill="#333" letter-spacing="0">−100</text>
<text x="399.8" y="147.98" font-size="9.3" text-anchor="end" font-family='"Liberation Serif", serif' fill="#333" letter-spacing="0">−80</text>
<text x="399.8" y="121.96" font-size="9.3" text-anchor="end" font-family='"Liberation Serif", serif' fill="#333" letter-spacing="0">−60</text>
<text x="399.8" y="95.94" font-size="9.3" text-anchor="end" font-family='"Liberation Serif", serif' fill="#333" letter-spacing="0">−40</text>
<text x="399.8" y="69.92" font-size="9.3" text-anchor="end" font-family='"Liberation Serif", serif' fill="#333" letter-spacing="0">−20</text>
<text x="399.8" y="43.9" font-size="9.3" text-anchor="end" font-family='"Liberation Serif", serif' fill="#333" letter-spacing="0">0</text>
<text x="399.8" y="17.88" font-size="9.3" text-anchor="end" font-family='"Liberation Serif", serif' fill="#333" letter-spacing="0">20</text>
<text x="44.5" y="551.9" font-size="9.3" text-anchor="middle" font-family='"Liberation Serif", serif' fill="#333" letter-spacing="-0.3">0</text>
<text x="71.9" y="551.9" font-size="9.3" text-anchor="middle" font-family='"Liberation Serif", serif' fill="#333" letter-spacing="-0.3">100</text>
<text x="99.3" y="551.9" font-size="9.3" text-anchor="middle" font-family='"Liberation Serif", serif' fill="#333" letter-spacing="-0.3">200</text>
<text x="126.7" y="551.9" font-size="9.3" text-anchor="middle" font-family='"Liberation Serif", serif' fill="#333" letter-spacing="-0.3">300</text>
<text x="154.1" y="551.9" font-size="9.3" text-anchor="middle" font-family='"Liberation Serif", serif' fill="#333" letter-spacing="-0.3">400</text>
<text x="181.5" y="551.9" font-size="9.3" text-anchor="middle" font-family='"Liberation Serif", serif' fill="#333" letter-spacing="-0.3">500</text>
<text x="208.9" y="551.9" font-size="9.3" text-anchor="middle" font-family='"Liberation Serif", serif' fill="#333" letter-spacing="-0.3">600</text>
<text x="236.3" y="551.9" font-size="9.3" text-anchor="middle" font-family='"Liberation Serif", serif' fill="#333" letter-spacing="-0.3">700</text>
<text x="263.7" y="551.9" font-size="9.3" text-anchor="middle" font-family='"Liberation Serif", serif' fill="#333" letter-spacing="-0.3">800</text>
<text x="291.1" y="551.9" font-size="9.3" text-anchor="middle" font-family='"Liberation Serif", serif' fill="#333" letter-spacing="-0.3">900</text>
<text x="318.5" y="551.9" font-size="9.3" text-anchor="middle" font-family='"Liberation Serif", serif' fill="#333" letter-spacing="-0.3">1000</text>
<text x="39" y="542.92" font-size="9.3" text-anchor="end" font-family='"Liberation Serif", serif' fill="#333" letter-spacing="-0.3">−120</text>
<text x="39" y="515.5" font-size="9.3" text-anchor="end" font-family='"Liberation Serif", serif' fill="#333" letter-spacing="-0.3">−100</text>
<text x="39" y="488.08" font-size="9.3" text-anchor="end" font-family='"Liberation Serif", serif' fill="#333" letter-spacing="-0.3">−80</text>
<text x="39" y="460.66" font-size="9.3" text-anchor="end" font-family='"Liberation Serif", serif' fill="#333" letter-spacing="-0.3">−60</text>
<text x="39" y="433.24" font-size="9.3" text-anchor="end" font-family='"Liberation Serif", serif' fill="#333" letter-spacing="-0.3">−40</text>
<text x="39" y="405.82" font-size="9.3" text-anchor="end" font-family='"Liberation Serif", serif' fill="#333" letter-spacing="-0.3">−20</text>
<text x="39" y="378.4" font-size="9.3" text-anchor="end" font-family='"Liberation Serif", serif' fill="#333" letter-spacing="-0.3">0</text>
<text x="39" y="350.98" font-size="9.3" text-anchor="end" font-family='"Liberation Serif", serif' fill="#333" letter-spacing="-0.3">20</text>
<text x="39" y="323.56" font-size="9.3" text-anchor="end" font-family='"Liberation Serif", serif' fill="#333" letter-spacing="-0.3">40</text>
<text x="408.4" y="550.8" font-size="9.3" text-anchor="middle" font-family='"Liberation Serif", serif' fill="#333" letter-spacing="-0.3">110</text>
<text x="438.34" y="550.8" font-size="9.3" text-anchor="middle" font-family='"Liberation Serif", serif' fill="#333" letter-spacing="-0.3">120</text>
<text x="468.28" y="550.8" font-size="9.3" text-anchor="middle" font-family='"Liberation Serif", serif' fill="#333" letter-spacing="-0.3">130</text>
<text x="498.22" y="550.8" font-size="9.3" text-anchor="middle" font-family='"Liberation Serif", serif' fill="#333" letter-spacing="-0.3">140</text>
<text x="528.16" y="550.8" font-size="9.3" text-anchor="middle" font-family='"Liberation Serif", serif' fill="#333" letter-spacing="-0.3">150</text>
<text x="558.1" y="550.8" font-size="9.3" text-anchor="middle" font-family='"Liberation Serif", serif' fill="#333" letter-spacing="-0.3">160</text>
<text x="588.04" y="550.8" font-size="9.3" text-anchor="middle" font-family='"Liberation Serif", serif' fill="#333" letter-spacing="-0.3">170</text>
<text x="617.98" y="550.8" font-size="9.3" text-anchor="middle" font-family='"Liberation Serif", serif' fill="#333" letter-spacing="-0.3">180</text>
<text x="647.92" y="550.8" font-size="9.3" text-anchor="middle" font-family='"Liberation Serif", serif' fill="#333" letter-spacing="-0.3">190</text>
<text x="677.86" y="550.8" font-size="9.3" text-anchor="middle" font-family='"Liberation Serif", serif' fill="#333" letter-spacing="-0.3">200</text>
<text x="400.8" y="541.98" font-size="9.3" text-anchor="end" font-family='"Liberation Serif", serif' fill="#333" letter-spacing="0">−150</text>
<text x="400.8" y="486.35" font-size="9.3" text-anchor="end" font-family='"Liberation Serif", serif' fill="#333" letter-spacing="0">−100</text>
<text x="400.8" y="430.73" font-size="9.3" text-anchor="end" font-family='"Liberation Serif", serif' fill="#333" letter-spacing="0">−50</text>
<text x="400.8" y="375.1" font-size="9.3" text-anchor="end" font-family='"Liberation Serif", serif' fill="#333" letter-spacing="0">0</text>
<text x="400.8" y="319.48" font-size="9.3" text-anchor="end" font-family='"Liberation Serif", serif' fill="#333" letter-spacing="0">50</text>
<text x="45.3" y="864.6" font-size="9.3" text-anchor="middle" font-family='"Liberation Serif", serif' fill="#333" letter-spacing="-0.3">0</text>
<text x="72.9" y="864.6" font-size="9.3" text-anchor="middle" font-family='"Liberation Serif", serif' fill="#333" letter-spacing="-0.3">100</text>
<text x="100.5" y="864.6" font-size="9.3" text-anchor="middle" font-family='"Liberation Serif", serif' fill="#333" letter-spacing="-0.3">200</text>
<text x="128.1" y="864.6" font-size="9.3" text-anchor="middle" font-family='"Liberation Serif", serif' fill="#333" letter-spacing="-0.3">300</text>
<text x="155.7" y="864.6" font-size="9.3" text-anchor="middle" font-family='"Liberation Serif", serif' fill="#333" letter-spacing="-0.3">400</text>
<text x="183.3" y="864.6" font-size="9.3" text-anchor="middle" font-family='"Liberation Serif", serif' fill="#333" letter-spacing="-0.3">500</text>
<text x="210.9" y="864.6" font-size="9.3" text-anchor="middle" font-family='"Liberation Serif", serif' fill="#333" letter-spacing="-0.3">600</text>
<text x="238.5" y="864.6" font-size="9.3" text-anchor="middle" font-family='"Liberation Serif", serif' fill="#333" letter-spacing="-0.3">700</text>
<text x="266.1" y="864.6" font-size="9.3" text-anchor="middle" font-family='"Liberation Serif", serif' fill="#333" letter-spacing="-0.3">800</text>
<text x="293.7" y="864.6" font-size="9.3" text-anchor="middle" font-family='"Liberation Serif", serif' fill="#333" letter-spacing="-0.3">900</text>
<text x="321.3" y="864.6" font-size="9.3" text-anchor="middle" font-family='"Liberation Serif", serif' fill="#333" letter-spacing="-0.3">1000</text>
<text x="40" y="855.13" font-size="9.3" text-anchor="end" font-family='"Liberation Serif", serif' fill="#333" letter-spacing="-0.3">−120</text>
<text x="40" y="827.74" font-size="9.3" text-anchor="end" font-family='"Liberation Serif", serif' fill="#333" letter-spacing="-0.3">−100</text>
<text x="40" y="800.35" font-size="9.3" text-anchor="end" font-family='"Liberation Serif", serif' fill="#333" letter-spacing="-0.3">−80</text>
<text x="40" y="772.96" font-size="9.3" text-anchor="end" font-family='"Liberation Serif", serif' fill="#333" letter-spacing="-0.3">−60</text>
<text x="40" y="745.58" font-size="9.3" text-anchor="end" font-family='"Liberation Serif", serif' fill="#333" letter-spacing="-0.3">−40</text>
<text x="40" y="718.19" font-size="9.3" text-anchor="end" font-family='"Liberation Serif", serif' fill="#333" letter-spacing="-0.3">−20</text>
<text x="40" y="690.8" font-size="9.3" text-anchor="end" font-family='"Liberation Serif", serif' fill="#333" letter-spacing="-0.3">0</text>
<text x="40" y="663.41" font-size="9.3" text-anchor="end" font-family='"Liberation Serif", serif' fill="#333" letter-spacing="-0.3">20</text>
<text x="40" y="636.02" font-size="9.3" text-anchor="end" font-family='"Liberation Serif", serif' fill="#333" letter-spacing="-0.3">40</text>
<text x="405.4" y="865" font-size="9.3" text-anchor="middle" font-family='"Liberation Serif", serif' fill="#333" letter-spacing="-0.3">60</text>
<text x="435.63" y="865" font-size="9.3" text-anchor="middle" font-family='"Liberation Serif", serif' fill="#333" letter-spacing="-0.3">70</text>
<text x="465.86" y="865" font-size="9.3" text-anchor="middle" font-family='"Liberation Serif", serif' fill="#333" letter-spacing="-0.3">80</text>
<text x="496.09" y="865" font-size="9.3" text-anchor="middle" font-family='"Liberation Serif", serif' fill="#333" letter-spacing="-0.3">90</text>
<text x="526.32" y="865" font-size="9.3" text-anchor="middle" font-family='"Liberation Serif", serif' fill="#333" letter-spacing="-0.3">100</text>
<text x="556.55" y="865" font-size="9.3" text-anchor="middle" font-family='"Liberation Serif", serif' fill="#333" letter-spacing="-0.3">110</text>
<text x="586.78" y="865" font-size="9.3" text-anchor="middle" font-family='"Liberation Serif", serif' fill="#333" letter-spacing="-0.3">120</text>
<text x="617.01" y="865" font-size="9.3" text-anchor="middle" font-family='"Liberation Serif", serif' fill="#333" letter-spacing="-0.3">130</text>
<text x="647.24" y="865" font-size="9.3" text-anchor="middle" font-family='"Liberation Serif", serif' fill="#333" letter-spacing="-0.3">140</text>
<text x="677.47" y="865" font-size="9.3" text-anchor="middle" font-family='"Liberation Serif", serif' fill="#333" letter-spacing="-0.3">150</text>
<text x="396.8" y="855.6" font-size="9.3" text-anchor="end" font-family='"Liberation Serif", serif' fill="#333" letter-spacing="0">−150</text>
<text x="396.8" y="800.15" font-size="9.3" text-anchor="end" font-family='"Liberation Serif", serif' fill="#333" letter-spacing="0">−100</text>
<text x="396.8" y="744.7" font-size="9.3" text-anchor="end" font-family='"Liberation Serif", serif' fill="#333" letter-spacing="0">−50</text>
<text x="396.8" y="689.25" font-size="9.3" text-anchor="end" font-family='"Liberation Serif", serif' fill="#333" letter-spacing="0">0</text>
<text x="396.8" y="633.8" font-size="9.3" text-anchor="end" font-family='"Liberation Serif", serif' fill="#333" letter-spacing="0">50</text>
<text transform="translate(12.6,109.2) rotate(-90)" font-size="12" text-anchor="middle" font-family='"Liberation Serif", serif' fill="#111">Circumferential stress/MPa</text>
<text transform="translate(377,109) rotate(-90)" font-size="11" text-anchor="middle" font-family='"Liberation Serif", serif' fill="#111">Circumferential stress/MPa</text>
<text transform="translate(8.9,425.9) rotate(-90)" font-size="12.2" text-anchor="middle" font-family='"Liberation Serif", serif' fill="#111">Circumferential stress/MPa</text>
<text transform="translate(377.6,429.7) rotate(-90)" font-size="12.1" text-anchor="middle" font-family='"Liberation Serif", serif' fill="#111">Circumferential stress/MPa</text>
<text transform="translate(10.2,737.3) rotate(-90)" font-size="11.9" text-anchor="middle" font-family='"Liberation Serif", serif' fill="#111">Circumferential stress/MPa</text>
<text transform="translate(374.4,743.8) rotate(-90)" font-size="12" text-anchor="middle" font-family='"Liberation Serif", serif' fill="#111">Circumferential stress/MPa</text>
<text x="182.5" y="245.1" font-size="11.3" text-anchor="middle" font-family='"Liberation Serif", serif' fill="#111">Time/us</text>
<text x="543" y="250.7" font-size="11.2" text-anchor="middle" font-family='"Liberation Serif", serif' fill="#111">Time/us</text>
<text x="182.4" y="567.7" font-size="11.5" text-anchor="middle" font-family='"Liberation Serif", serif' fill="#111">Time/us</text>
<text x="543.6" y="566.8" font-size="11.9" text-anchor="middle" font-family='"Liberation Serif", serif' fill="#111">Time/us</text>
<text x="183.5" y="879.9" font-size="11.5" text-anchor="middle" font-family='"Liberation Serif", serif' fill="#111">Time/us</text>
<text x="541.7" y="880.7" font-size="11.9" text-anchor="middle" font-family='"Liberation Serif", serif' fill="#111">Time/us</text>
<text x="337" y="286" font-size="16.6" text-anchor="middle" font-family='"Liberation Serif", serif' fill="#111">(Point A)</text>
<text x="344.8" y="601" font-size="16.6" text-anchor="middle" font-family='"Liberation Serif", serif' fill="#111">(Point B)</text>
<text x="344.8" y="916.5" font-size="16.6" text-anchor="middle" font-family='"Liberation Serif", serif' fill="#111">(Point C)</text>
<line x1="217.2" y1="111.1" x2="239.8" y2="111.1" stroke="#515151" stroke-width="1.8" stroke-opacity="0.7"/>
<line x1="217.2" y1="127.6" x2="239.8" y2="127.6" stroke="#F14040" stroke-width="1.8" stroke-opacity="0.7"/>
<line x1="217.2" y1="144.4" x2="239.8" y2="144.4" stroke="#1A6FDF" stroke-width="1.8" stroke-opacity="0.7"/>
<line x1="217.2" y1="161.3" x2="239.8" y2="161.3" stroke="#37AD6B" stroke-width="1.8" stroke-opacity="0.7"/>
<line x1="217.2" y1="178" x2="239.8" y2="178" stroke="#B177DE" stroke-width="1.8" stroke-opacity="0.7"/>
<text x="245.7" y="115.2" font-size="10" font-family='"Liberation Sans", sans-serif' fill="#1a1a1a" font-weight="bold" textLength="5.9" lengthAdjust="spacingAndGlyphs">σ</text>
<text x="252.3" y="117.2" font-size="7.6" font-family='"Liberation Serif", serif' fill="#555" textLength="3.4" lengthAdjust="spacingAndGlyphs">x</text>
<path d="M256.2 110.6h4.9M256.2 112.6h4.9" stroke="#5a5a5a" stroke-width="0.75"/>
<text x="261.6" y="115.2" font-size="10" font-family='"Liberation Sans", sans-serif' fill="#1a1a1a" font-weight="bold" textLength="5.9" lengthAdjust="spacingAndGlyphs">σ</text>
<text x="268.6" y="117.2" font-size="7.6" font-family='"Liberation Serif", serif' fill="#555" textLength="3.4" lengthAdjust="spacingAndGlyphs">y</text>
<path d="M272.4 110.6h4.9M272.4 112.6h4.9" stroke="#5a5a5a" stroke-width="0.75"/>
<text x="279.2" y="115.2" font-size="9.5" font-family='"Liberation Serif", serif' fill="#333" textLength="26.4" lengthAdjust="spacingAndGlyphs">10MPa</text>
<text x="245.7" y="131.7" font-size="10" font-family='"Liberation Sans", sans-serif' fill="#1a1a1a" font-weight="bold" textLength="5.9" lengthAdjust="spacingAndGlyphs">σ</text>
<text x="252.3" y="133.7" font-size="7.6" font-family='"Liberation Serif", serif' fill="#555" textLength="3.4" lengthAdjust="spacingAndGlyphs">x</text>
<path d="M256.2 127.1h4.9M256.2 129.1h4.9" stroke="#5a5a5a" stroke-width="0.75"/>
<text x="261.6" y="131.7" font-size="10" font-family='"Liberation Sans", sans-serif' fill="#1a1a1a" font-weight="bold" textLength="5.9" lengthAdjust="spacingAndGlyphs">σ</text>
<text x="268.6" y="133.7" font-size="7.6" font-family='"Liberation Serif", serif' fill="#555" textLength="3.4" lengthAdjust="spacingAndGlyphs">y</text>
<path d="M272.4 127.1h4.9M272.4 129.1h4.9" stroke="#5a5a5a" stroke-width="0.75"/>
<text x="279.2" y="131.7" font-size="9.5" font-family='"Liberation Serif", serif' fill="#333" textLength="26.4" lengthAdjust="spacingAndGlyphs">20MPa</text>
<text x="245.7" y="148.5" font-size="10" font-family='"Liberation Sans", sans-serif' fill="#1a1a1a" font-weight="bold" textLength="5.9" lengthAdjust="spacingAndGlyphs">σ</text>
<text x="252.3" y="150.5" font-size="7.6" font-family='"Liberation Serif", serif' fill="#555" textLength="3.4" lengthAdjust="spacingAndGlyphs">x</text>
<path d="M256.2 143.9h4.9M256.2 145.9h4.9" stroke="#5a5a5a" stroke-width="0.75"/>
<text x="261.6" y="148.5" font-size="10" font-family='"Liberation Sans", sans-serif' fill="#1a1a1a" font-weight="bold" textLength="5.9" lengthAdjust="spacingAndGlyphs">σ</text>
<text x="268.6" y="150.5" font-size="7.6" font-family='"Liberation Serif", serif' fill="#555" textLength="3.4" lengthAdjust="spacingAndGlyphs">y</text>
<path d="M272.4 143.9h4.9M272.4 145.9h4.9" stroke="#5a5a5a" stroke-width="0.75"/>
<text x="279.2" y="148.5" font-size="9.5" font-family='"Liberation Serif", serif' fill="#333" textLength="26.4" lengthAdjust="spacingAndGlyphs">30MPa</text>
<text x="245.7" y="165.4" font-size="10" font-family='"Liberation Sans", sans-serif' fill="#1a1a1a" font-weight="bold" textLength="5.9" lengthAdjust="spacingAndGlyphs">σ</text>
<text x="252.3" y="167.4" font-size="7.6" font-family='"Liberation Serif", serif' fill="#555" textLength="3.4" lengthAdjust="spacingAndGlyphs">x</text>
<path d="M256.2 160.8h4.9M256.2 162.8h4.9" stroke="#5a5a5a" stroke-width="0.75"/>
<text x="261.6" y="165.4" font-size="10" font-family='"Liberation Sans", sans-serif' fill="#1a1a1a" font-weight="bold" textLength="5.9" lengthAdjust="spacingAndGlyphs">σ</text>
<text x="268.6" y="167.4" font-size="7.6" font-family='"Liberation Serif", serif' fill="#555" textLength="3.4" lengthAdjust="spacingAndGlyphs">y</text>
<path d="M272.4 160.8h4.9M272.4 162.8h4.9" stroke="#5a5a5a" stroke-width="0.75"/>
<text x="279.2" y="165.4" font-size="9.5" font-family='"Liberation Serif", serif' fill="#333" textLength="26.4" lengthAdjust="spacingAndGlyphs">40MPa</text>
<text x="245.7" y="182.1" font-size="10" font-family='"Liberation Sans", sans-serif' fill="#1a1a1a" font-weight="bold" textLength="5.9" lengthAdjust="spacingAndGlyphs">σ</text>
<text x="252.3" y="184.1" font-size="7.6" font-family='"Liberation Serif", serif' fill="#555" textLength="3.4" lengthAdjust="spacingAndGlyphs">x</text>
<path d="M256.2 177.5h4.9M256.2 179.5h4.9" stroke="#5a5a5a" stroke-width="0.75"/>
<text x="261.6" y="182.1" font-size="10" font-family='"Liberation Sans", sans-serif' fill="#1a1a1a" font-weight="bold" textLength="5.9" lengthAdjust="spacingAndGlyphs">σ</text>
<text x="268.6" y="184.1" font-size="7.6" font-family='"Liberation Serif", serif' fill="#555" textLength="3.4" lengthAdjust="spacingAndGlyphs">y</text>
<path d="M272.4 177.5h4.9M272.4 179.5h4.9" stroke="#5a5a5a" stroke-width="0.75"/>
<text x="279.2" y="182.1" font-size="9.5" font-family='"Liberation Serif", serif' fill="#333" textLength="26.4" lengthAdjust="spacingAndGlyphs">50MPa</text>
<line x1="496.1" y1="15.5" x2="515.8" y2="15.5" stroke="#515151" stroke-width="1.0" stroke-opacity="1.0"/>
<rect x="503.21" y="12.71" width="5.58" height="5.58" fill="#515151"/>
<line x1="496.1" y1="30.1" x2="515.8" y2="30.1" stroke="#F14040" stroke-width="1.0" stroke-opacity="1.0"/>
<circle cx="506" cy="30.1" r="3.1" fill="#F14040"/>
<line x1="496.1" y1="44.1" x2="515.8" y2="44.1" stroke="#1A6FDF" stroke-width="1.0" stroke-opacity="1.0"/>
<path d="M506 40.44L509.35 46.83L502.65 46.83Z" fill="#1A6FDF"/>
<line x1="496.1" y1="58.7" x2="515.8" y2="58.7" stroke="#37AD6B" stroke-width="1.0" stroke-opacity="1.0"/>
<path d="M506 62.27L509.35 55.91L502.65 55.91Z" fill="#37AD6B"/>
<line x1="496.1" y1="72.6" x2="515.8" y2="72.6" stroke="#B177DE" stroke-width="1.0" stroke-opacity="1.0"/>
<path d="M506 68.94L509.47 72.6L506 76.26L502.53 72.6Z" fill="#B177DE"/>
<text x="519.8" y="19.2" font-size="9" font-family='"Liberation Sans", sans-serif' fill="#1a1a1a" font-weight="bold" textLength="5.7" lengthAdjust="spacingAndGlyphs">σ</text>
<text x="525.9" y="21.4" font-size="7.2" font-family='"Liberation Serif", serif' fill="#555" textLength="3.4" lengthAdjust="spacingAndGlyphs">x</text>
<path d="M529.5 14.8h3.9M529.5 17h3.9" stroke="#5a5a5a" stroke-width="0.75"/>
<text x="533.8" y="19.2" font-size="9" font-family='"Liberation Sans", sans-serif' fill="#1a1a1a" font-weight="bold" textLength="5.7" lengthAdjust="spacingAndGlyphs">σ</text>
<text x="540" y="21.4" font-size="7.2" font-family='"Liberation Serif", serif' fill="#555" textLength="3.4" lengthAdjust="spacingAndGlyphs">y</text>
<path d="M543 14.8h3.9M543 17h3.9" stroke="#5a5a5a" stroke-width="0.75"/>
<text x="547.8" y="19.2" font-size="9.4" font-family='"Liberation Serif", serif' fill="#333" textLength="22.8" lengthAdjust="spacingAndGlyphs">10MPa</text>
<text x="519.8" y="33.8" font-size="9" font-family='"Liberation Sans", sans-serif' fill="#1a1a1a" font-weight="bold" textLength="5.7" lengthAdjust="spacingAndGlyphs">σ</text>
<text x="525.9" y="36" font-size="7.2" font-family='"Liberation Serif", serif' fill="#555" textLength="3.4" lengthAdjust="spacingAndGlyphs">x</text>
<path d="M529.5 29.4h3.9M529.5 31.6h3.9" stroke="#5a5a5a" stroke-width="0.75"/>
<text x="533.8" y="33.8" font-size="9" font-family='"Liberation Sans", sans-serif' fill="#1a1a1a" font-weight="bold" textLength="5.7" lengthAdjust="spacingAndGlyphs">σ</text>
<text x="540" y="36" font-size="7.2" font-family='"Liberation Serif", serif' fill="#555" textLength="3.4" lengthAdjust="spacingAndGlyphs">y</text>
<path d="M543 29.4h3.9M543 31.6h3.9" stroke="#5a5a5a" stroke-width="0.75"/>
<text x="547.8" y="33.8" font-size="9.4" font-family='"Liberation Serif", serif' fill="#333" textLength="22.8" lengthAdjust="spacingAndGlyphs">20MPa</text>
<text x="519.8" y="47.8" font-size="9" font-family='"Liberation Sans", sans-serif' fill="#1a1a1a" font-weight="bold" textLength="5.7" lengthAdjust="spacingAndGlyphs">σ</text>
<text x="525.9" y="50" font-size="7.2" font-family='"Liberation Serif", serif' fill="#555" textLength="3.4" lengthAdjust="spacingAndGlyphs">x</text>
<path d="M529.5 43.4h3.9M529.5 45.6h3.9" stroke="#5a5a5a" stroke-width="0.75"/>
<text x="533.8" y="47.8" font-size="9" font-family='"Liberation Sans", sans-serif' fill="#1a1a1a" font-weight="bold" textLength="5.7" lengthAdjust="spacingAndGlyphs">σ</text>
<text x="540" y="50" font-size="7.2" font-family='"Liberation Serif", serif' fill="#555" textLength="3.4" lengthAdjust="spacingAndGlyphs">y</text>
<path d="M543 43.4h3.9M543 45.6h3.9" stroke="#5a5a5a" stroke-width="0.75"/>
<text x="547.8" y="47.8" font-size="9.4" font-family='"Liberation Serif", serif' fill="#333" textLength="22.8" lengthAdjust="spacingAndGlyphs">30MPa</text>
<text x="519.8" y="62.4" font-size="9" font-family='"Liberation Sans", sans-serif' fill="#1a1a1a" font-weight="bold" textLength="5.7" lengthAdjust="spacingAndGlyphs">σ</text>
<text x="525.9" y="64.6" font-size="7.2" font-family='"Liberation Serif", serif' fill="#555" textLength="3.4" lengthAdjust="spacingAndGlyphs">x</text>
<path d="M529.5 58h3.9M529.5 60.2h3.9" stroke="#5a5a5a" stroke-width="0.75"/>
<text x="533.8" y="62.4" font-size="9" font-family='"Liberation Sans", sans-serif' fill="#1a1a1a" font-weight="bold" textLength="5.7" lengthAdjust="spacingAndGlyphs">σ</text>
<text x="540" y="64.6" font-size="7.2" font-family='"Liberation Serif", serif' fill="#555" textLength="3.4" lengthAdjust="spacingAndGlyphs">y</text>
<path d="M543 58h3.9M543 60.2h3.9" stroke="#5a5a5a" stroke-width="0.75"/>
<text x="547.8" y="62.4" font-size="9.4" font-family='"Liberation Serif", serif' fill="#333" textLength="22.8" lengthAdjust="spacingAndGlyphs">40MPa</text>
<text x="519.8" y="76.3" font-size="9" font-family='"Liberation Sans", sans-serif' fill="#1a1a1a" font-weight="bold" textLength="5.7" lengthAdjust="spacingAndGlyphs">σ</text>
<text x="525.9" y="78.5" font-size="7.2" font-family='"Liberation Serif", serif' fill="#555" textLength="3.4" lengthAdjust="spacingAndGlyphs">x</text>
<path d="M529.5 71.9h3.9M529.5 74.1h3.9" stroke="#5a5a5a" stroke-width="0.75"/>
<text x="533.8" y="76.3" font-size="9" font-family='"Liberation Sans", sans-serif' fill="#1a1a1a" font-weight="bold" textLength="5.7" lengthAdjust="spacingAndGlyphs">σ</text>
<text x="540" y="78.5" font-size="7.2" font-family='"Liberation Serif", serif' fill="#555" textLength="3.4" lengthAdjust="spacingAndGlyphs">y</text>
<path d="M543 71.9h3.9M543 74.1h3.9" stroke="#5a5a5a" stroke-width="0.75"/>
<text x="547.8" y="76.3" font-size="9.4" font-family='"Liberation Serif", serif' fill="#333" textLength="22.8" lengthAdjust="spacingAndGlyphs">50MPa</text>
<line x1="220" y1="448.7" x2="243.7" y2="448.7" stroke="#515151" stroke-width="1.0" stroke-opacity="1.0"/>
<line x1="220" y1="465.8" x2="243.7" y2="465.8" stroke="#F14040" stroke-width="1.0" stroke-opacity="1.0"/>
<line x1="220" y1="483.2" x2="243.7" y2="483.2" stroke="#1A6FDF" stroke-width="1.0" stroke-opacity="1.0"/>
<line x1="220" y1="500.4" x2="243.7" y2="500.4" stroke="#37AD6B" stroke-width="1.0" stroke-opacity="1.0"/>
<line x1="220" y1="517.7" x2="243.7" y2="517.7" stroke="#B177DE" stroke-width="1.0" stroke-opacity="1.0"/>
<text x="249.9" y="452.3" font-size="10.3" font-family='"Liberation Sans", sans-serif' fill="#1a1a1a" font-weight="bold" textLength="6.1" lengthAdjust="spacingAndGlyphs">σ</text>
<text x="256.5" y="455.5" font-size="8" font-family='"Liberation Serif", serif' fill="#555" textLength="3.6" lengthAdjust="spacingAndGlyphs">x</text>
<path d="M260.5 447.6h4.9M260.5 449.7h4.9" stroke="#5a5a5a" stroke-width="0.75"/>
<text x="265.7" y="452.3" font-size="10.3" font-family='"Liberation Sans", sans-serif' fill="#1a1a1a" font-weight="bold" textLength="6.1" lengthAdjust="spacingAndGlyphs">σ</text>
<text x="272.6" y="455.5" font-size="8" font-family='"Liberation Serif", serif' fill="#555" textLength="3.6" lengthAdjust="spacingAndGlyphs">y</text>
<path d="M276.9 447.6h4.9M276.9 449.7h4.9" stroke="#5a5a5a" stroke-width="0.75"/>
<text x="283.6" y="452.3" font-size="10.3" font-family='"Liberation Serif", serif' fill="#333" textLength="27.8" lengthAdjust="spacingAndGlyphs">10MPa</text>
<text x="249.9" y="469.4" font-size="10.3" font-family='"Liberation Sans", sans-serif' fill="#1a1a1a" font-weight="bold" textLength="6.1" lengthAdjust="spacingAndGlyphs">σ</text>
<text x="256.5" y="472.6" font-size="8" font-family='"Liberation Serif", serif' fill="#555" textLength="3.6" lengthAdjust="spacingAndGlyphs">x</text>
<path d="M260.5 464.7h4.9M260.5 466.8h4.9" stroke="#5a5a5a" stroke-width="0.75"/>
<text x="265.7" y="469.4" font-size="10.3" font-family='"Liberation Sans", sans-serif' fill="#1a1a1a" font-weight="bold" textLength="6.1" lengthAdjust="spacingAndGlyphs">σ</text>
<text x="272.6" y="472.6" font-size="8" font-family='"Liberation Serif", serif' fill="#555" textLength="3.6" lengthAdjust="spacingAndGlyphs">y</text>
<path d="M276.9 464.7h4.9M276.9 466.8h4.9" stroke="#5a5a5a" stroke-width="0.75"/>
<text x="283.6" y="469.4" font-size="10.3" font-family='"Liberation Serif", serif' fill="#333" textLength="27.8" lengthAdjust="spacingAndGlyphs">20MPa</text>
<text x="249.9" y="486.8" font-size="10.3" font-family='"Liberation Sans", sans-serif' fill="#1a1a1a" font-weight="bold" textLength="6.1" lengthAdjust="spacingAndGlyphs">σ</text>
<text x="256.5" y="490" font-size="8" font-family='"Liberation Serif", serif' fill="#555" textLength="3.6" lengthAdjust="spacingAndGlyphs">x</text>
<path d="M260.5 482.1h4.9M260.5 484.2h4.9" stroke="#5a5a5a" stroke-width="0.75"/>
<text x="265.7" y="486.8" font-size="10.3" font-family='"Liberation Sans", sans-serif' fill="#1a1a1a" font-weight="bold" textLength="6.1" lengthAdjust="spacingAndGlyphs">σ</text>
<text x="272.6" y="490" font-size="8" font-family='"Liberation Serif", serif' fill="#555" textLength="3.6" lengthAdjust="spacingAndGlyphs">y</text>
<path d="M276.9 482.1h4.9M276.9 484.2h4.9" stroke="#5a5a5a" stroke-width="0.75"/>
<text x="283.6" y="486.8" font-size="10.3" font-family='"Liberation Serif", serif' fill="#333" textLength="27.8" lengthAdjust="spacingAndGlyphs">30MPa</text>
<text x="249.9" y="504" font-size="10.3" font-family='"Liberation Sans", sans-serif' fill="#1a1a1a" font-weight="bold" textLength="6.1" lengthAdjust="spacingAndGlyphs">σ</text>
<text x="256.5" y="507.2" font-size="8" font-family='"Liberation Serif", serif' fill="#555" textLength="3.6" lengthAdjust="spacingAndGlyphs">x</text>
<path d="M260.5 499.3h4.9M260.5 501.4h4.9" stroke="#5a5a5a" stroke-width="0.75"/>
<text x="265.7" y="504" font-size="10.3" font-family='"Liberation Sans", sans-serif' fill="#1a1a1a" font-weight="bold" textLength="6.1" lengthAdjust="spacingAndGlyphs">σ</text>
<text x="272.6" y="507.2" font-size="8" font-family='"Liberation Serif", serif' fill="#555" textLength="3.6" lengthAdjust="spacingAndGlyphs">y</text>
<path d="M276.9 499.3h4.9M276.9 501.4h4.9" stroke="#5a5a5a" stroke-width="0.75"/>
<text x="283.6" y="504" font-size="10.3" font-family='"Liberation Serif", serif' fill="#333" textLength="27.8" lengthAdjust="spacingAndGlyphs">40MPa</text>
<text x="249.9" y="521.3" font-size="10.3" font-family='"Liberation Sans", sans-serif' fill="#1a1a1a" font-weight="bold" textLength="6.1" lengthAdjust="spacingAndGlyphs">σ</text>
<text x="256.5" y="524.5" font-size="8" font-family='"Liberation Serif", serif' fill="#555" textLength="3.6" lengthAdjust="spacingAndGlyphs">x</text>
<path d="M260.5 516.6h4.9M260.5 518.7h4.9" stroke="#5a5a5a" stroke-width="0.75"/>
<text x="265.7" y="521.3" font-size="10.3" font-family='"Liberation Sans", sans-serif' fill="#1a1a1a" font-weight="bold" textLength="6.1" lengthAdjust="spacingAndGlyphs">σ</text>
<text x="272.6" y="524.5" font-size="8" font-family='"Liberation Serif", serif' fill="#555" textLength="3.6" lengthAdjust="spacingAndGlyphs">y</text>
<path d="M276.9 516.6h4.9M276.9 518.7h4.9" stroke="#5a5a5a" stroke-width="0.75"/>
<text x="283.6" y="521.3" font-size="10.3" font-family='"Liberation Serif", serif' fill="#333" textLength="27.8" lengthAdjust="spacingAndGlyphs">50MPa</text>
<line x1="495.8" y1="329.5" x2="515.1" y2="329.5" stroke="#515151" stroke-width="1.0" stroke-opacity="1.0"/>
<rect x="502.51" y="326.71" width="5.58" height="5.58" fill="#515151"/>
<line x1="495.8" y1="343.6" x2="515.1" y2="343.6" stroke="#F14040" stroke-width="1.0" stroke-opacity="1.0"/>
<circle cx="505.3" cy="343.6" r="3.1" fill="#F14040"/>
<line x1="495.8" y1="357.7" x2="515.1" y2="357.7" stroke="#1A6FDF" stroke-width="1.0" stroke-opacity="1.0"/>
<path d="M505.3 354.04L508.65 360.43L501.95 360.43Z" fill="#1A6FDF"/>
<line x1="495.8" y1="372" x2="515.1" y2="372" stroke="#37AD6B" stroke-width="1.0" stroke-opacity="1.0"/>
<path d="M505.3 375.56L508.65 369.21L501.95 369.21Z" fill="#37AD6B"/>
<line x1="495.8" y1="386.4" x2="515.1" y2="386.4" stroke="#B177DE" stroke-width="1.0" stroke-opacity="1.0"/>
<path d="M505.3 382.74L508.77 386.4L505.3 390.06L501.83 386.4Z" fill="#B177DE"/>
<text x="519.9" y="333.2" font-size="9" font-family='"Liberation Sans", sans-serif' fill="#1a1a1a" font-weight="bold" textLength="5.7" lengthAdjust="spacingAndGlyphs">σ</text>
<text x="526" y="335.4" font-size="7.2" font-family='"Liberation Serif", serif' fill="#555" textLength="3.4" lengthAdjust="spacingAndGlyphs">x</text>
<path d="M529.6 328.8h3.9M529.6 331h3.9" stroke="#5a5a5a" stroke-width="0.75"/>
<text x="533.9" y="333.2" font-size="9" font-family='"Liberation Sans", sans-serif' fill="#1a1a1a" font-weight="bold" textLength="5.7" lengthAdjust="spacingAndGlyphs">σ</text>
<text x="540.1" y="335.4" font-size="7.2" font-family='"Liberation Serif", serif' fill="#555" textLength="3.4" lengthAdjust="spacingAndGlyphs">y</text>
<path d="M543.1 328.8h3.9M543.1 331h3.9" stroke="#5a5a5a" stroke-width="0.75"/>
<text x="547.9" y="333.2" font-size="9.4" font-family='"Liberation Serif", serif' fill="#333" textLength="22.8" lengthAdjust="spacingAndGlyphs">10MPa</text>
<text x="519.9" y="347.3" font-size="9" font-family='"Liberation Sans", sans-serif' fill="#1a1a1a" font-weight="bold" textLength="5.7" lengthAdjust="spacingAndGlyphs">σ</text>
<text x="526" y="349.5" font-size="7.2" font-family='"Liberation Serif", serif' fill="#555" textLength="3.4" lengthAdjust="spacingAndGlyphs">x</text>
<path d="M529.6 342.9h3.9M529.6 345.1h3.9" stroke="#5a5a5a" stroke-width="0.75"/>
<text x="533.9" y="347.3" font-size="9" font-family='"Liberation Sans", sans-serif' fill="#1a1a1a" font-weight="bold" textLength="5.7" lengthAdjust="spacingAndGlyphs">σ</text>
<text x="540.1" y="349.5" font-size="7.2" font-family='"Liberation Serif", serif' fill="#555" textLength="3.4" lengthAdjust="spacingAndGlyphs">y</text>
<path d="M543.1 342.9h3.9M543.1 345.1h3.9" stroke="#5a5a5a" stroke-width="0.75"/>
<text x="547.9" y="347.3" font-size="9.4" font-family='"Liberation Serif", serif' fill="#333" textLength="22.8" lengthAdjust="spacingAndGlyphs">20MPa</text>
<text x="519.9" y="361.4" font-size="9" font-family='"Liberation Sans", sans-serif' fill="#1a1a1a" font-weight="bold" textLength="5.7" lengthAdjust="spacingAndGlyphs">σ</text>
<text x="526" y="363.6" font-size="7.2" font-family='"Liberation Serif", serif' fill="#555" textLength="3.4" lengthAdjust="spacingAndGlyphs">x</text>
<path d="M529.6 357h3.9M529.6 359.2h3.9" stroke="#5a5a5a" stroke-width="0.75"/>
<text x="533.9" y="361.4" font-size="9" font-family='"Liberation Sans", sans-serif' fill="#1a1a1a" font-weight="bold" textLength="5.7" lengthAdjust="spacingAndGlyphs">σ</text>
<text x="540.1" y="363.6" font-size="7.2" font-family='"Liberation Serif", serif' fill="#555" textLength="3.4" lengthAdjust="spacingAndGlyphs">y</text>
<path d="M543.1 357h3.9M543.1 359.2h3.9" stroke="#5a5a5a" stroke-width="0.75"/>
<text x="547.9" y="361.4" font-size="9.4" font-family='"Liberation Serif", serif' fill="#333" textLength="22.8" lengthAdjust="spacingAndGlyphs">30MPa</text>
<text x="519.9" y="375.7" font-size="9" font-family='"Liberation Sans", sans-serif' fill="#1a1a1a" font-weight="bold" textLength="5.7" lengthAdjust="spacingAndGlyphs">σ</text>
<text x="526" y="377.9" font-size="7.2" font-family='"Liberation Serif", serif' fill="#555" textLength="3.4" lengthAdjust="spacingAndGlyphs">x</text>
<path d="M529.6 371.3h3.9M529.6 373.5h3.9" stroke="#5a5a5a" stroke-width="0.75"/>
<text x="533.9" y="375.7" font-size="9" font-family='"Liberation Sans", sans-serif' fill="#1a1a1a" font-weight="bold" textLength="5.7" lengthAdjust="spacingAndGlyphs">σ</text>
<text x="540.1" y="377.9" font-size="7.2" font-family='"Liberation Serif", serif' fill="#555" textLength="3.4" lengthAdjust="spacingAndGlyphs">y</text>
<path d="M543.1 371.3h3.9M543.1 373.5h3.9" stroke="#5a5a5a" stroke-width="0.75"/>
<text x="547.9" y="375.7" font-size="9.4" font-family='"Liberation Serif", serif' fill="#333" textLength="22.8" lengthAdjust="spacingAndGlyphs">40MPa</text>
<text x="519.9" y="390.1" font-size="9" font-family='"Liberation Sans", sans-serif' fill="#1a1a1a" font-weight="bold" textLength="5.7" lengthAdjust="spacingAndGlyphs">σ</text>
<text x="526" y="392.3" font-size="7.2" font-family='"Liberation Serif", serif' fill="#555" textLength="3.4" lengthAdjust="spacingAndGlyphs">x</text>
<path d="M529.6 385.7h3.9M529.6 387.9h3.9" stroke="#5a5a5a" stroke-width="0.75"/>
<text x="533.9" y="390.1" font-size="9" font-family='"Liberation Sans", sans-serif' fill="#1a1a1a" font-weight="bold" textLength="5.7" lengthAdjust="spacingAndGlyphs">σ</text>
<text x="540.1" y="392.3" font-size="7.2" font-family='"Liberation Serif", serif' fill="#555" textLength="3.4" lengthAdjust="spacingAndGlyphs">y</text>
<path d="M543.1 385.7h3.9M543.1 387.9h3.9" stroke="#5a5a5a" stroke-width="0.75"/>
<text x="547.9" y="390.1" font-size="9.4" font-family='"Liberation Serif", serif' fill="#333" textLength="22.8" lengthAdjust="spacingAndGlyphs">50MPa</text>
<line x1="221.6" y1="757.5" x2="245" y2="757.5" stroke="#515151" stroke-width="1.0" stroke-opacity="1.0"/>
<line x1="221.6" y1="775" x2="245" y2="775" stroke="#F14040" stroke-width="1.0" stroke-opacity="1.0"/>
<line x1="221.6" y1="792.4" x2="245" y2="792.4" stroke="#1A6FDF" stroke-width="1.0" stroke-opacity="1.0"/>
<line x1="221.6" y1="809.6" x2="245" y2="809.6" stroke="#37AD6B" stroke-width="1.0" stroke-opacity="1.0"/>
<line x1="221.6" y1="826.9" x2="245" y2="826.9" stroke="#B177DE" stroke-width="1.0" stroke-opacity="1.0"/>
<text x="250.9" y="761.1" font-size="10.3" font-family='"Liberation Sans", sans-serif' fill="#1a1a1a" font-weight="bold" textLength="6.1" lengthAdjust="spacingAndGlyphs">σ</text>
<text x="257.5" y="764.3" font-size="8" font-family='"Liberation Serif", serif' fill="#555" textLength="3.6" lengthAdjust="spacingAndGlyphs">x</text>
<path d="M261.5 756.4h4.9M261.5 758.5h4.9" stroke="#5a5a5a" stroke-width="0.75"/>
<text x="266.7" y="761.1" font-size="10.3" font-family='"Liberation Sans", sans-serif' fill="#1a1a1a" font-weight="bold" textLength="6.1" lengthAdjust="spacingAndGlyphs">σ</text>
<text x="273.6" y="764.3" font-size="8" font-family='"Liberation Serif", serif' fill="#555" textLength="3.6" lengthAdjust="spacingAndGlyphs">y</text>
<path d="M277.9 756.4h4.9M277.9 758.5h4.9" stroke="#5a5a5a" stroke-width="0.75"/>
<text x="284.6" y="761.1" font-size="10.3" font-family='"Liberation Serif", serif' fill="#333" textLength="27.8" lengthAdjust="spacingAndGlyphs">10MPa</text>
<text x="250.9" y="778.6" font-size="10.3" font-family='"Liberation Sans", sans-serif' fill="#1a1a1a" font-weight="bold" textLength="6.1" lengthAdjust="spacingAndGlyphs">σ</text>
<text x="257.5" y="781.8" font-size="8" font-family='"Liberation Serif", serif' fill="#555" textLength="3.6" lengthAdjust="spacingAndGlyphs">x</text>
<path d="M261.5 773.9h4.9M261.5 776h4.9" stroke="#5a5a5a" stroke-width="0.75"/>
<text x="266.7" y="778.6" font-size="10.3" font-family='"Liberation Sans", sans-serif' fill="#1a1a1a" font-weight="bold" textLength="6.1" lengthAdjust="spacingAndGlyphs">σ</text>
<text x="273.6" y="781.8" font-size="8" font-family='"Liberation Serif", serif' fill="#555" textLength="3.6" lengthAdjust="spacingAndGlyphs">y</text>
<path d="M277.9 773.9h4.9M277.9 776h4.9" stroke="#5a5a5a" stroke-width="0.75"/>
<text x="284.6" y="778.6" font-size="10.3" font-family='"Liberation Serif", serif' fill="#333" textLength="27.8" lengthAdjust="spacingAndGlyphs">20MPa</text>
<text x="250.9" y="796" font-size="10.3" font-family='"Liberation Sans", sans-serif' fill="#1a1a1a" font-weight="bold" textLength="6.1" lengthAdjust="spacingAndGlyphs">σ</text>
<text x="257.5" y="799.2" font-size="8" font-family='"Liberation Serif", serif' fill="#555" textLength="3.6" lengthAdjust="spacingAndGlyphs">x</text>
<path d="M261.5 791.3h4.9M261.5 793.4h4.9" stroke="#5a5a5a" stroke-width="0.75"/>
<text x="266.7" y="796" font-size="10.3" font-family='"Liberation Sans", sans-serif' fill="#1a1a1a" font-weight="bold" textLength="6.1" lengthAdjust="spacingAndGlyphs">σ</text>
<text x="273.6" y="799.2" font-size="8" font-family='"Liberation Serif", serif' fill="#555" textLength="3.6" lengthAdjust="spacingAndGlyphs">y</text>
<path d="M277.9 791.3h4.9M277.9 793.4h4.9" stroke="#5a5a5a" stroke-width="0.75"/>
<text x="284.6" y="796" font-size="10.3" font-family='"Liberation Serif", serif' fill="#333" textLength="27.8" lengthAdjust="spacingAndGlyphs">30MPa</text>
<text x="250.9" y="813.2" font-size="10.3" font-family='"Liberation Sans", sans-serif' fill="#1a1a1a" font-weight="bold" textLength="6.1" lengthAdjust="spacingAndGlyphs">σ</text>
<text x="257.5" y="816.4" font-size="8" font-family='"Liberation Serif", serif' fill="#555" textLength="3.6" lengthAdjust="spacingAndGlyphs">x</text>
<path d="M261.5 808.5h4.9M261.5 810.6h4.9" stroke="#5a5a5a" stroke-width="0.75"/>
<text x="266.7" y="813.2" font-size="10.3" font-family='"Liberation Sans", sans-serif' fill="#1a1a1a" font-weight="bold" textLength="6.1" lengthAdjust="spacingAndGlyphs">σ</text>
<text x="273.6" y="816.4" font-size="8" font-family='"Liberation Serif", serif' fill="#555" textLength="3.6" lengthAdjust="spacingAndGlyphs">y</text>
<path d="M277.9 808.5h4.9M277.9 810.6h4.9" stroke="#5a5a5a" stroke-width="0.75"/>
<text x="284.6" y="813.2" font-size="10.3" font-family='"Liberation Serif", serif' fill="#333" textLength="27.8" lengthAdjust="spacingAndGlyphs">40MPa</text>
<text x="250.9" y="830.5" font-size="10.3" font-family='"Liberation Sans", sans-serif' fill="#1a1a1a" font-weight="bold" textLength="6.1" lengthAdjust="spacingAndGlyphs">σ</text>
<text x="257.5" y="833.7" font-size="8" font-family='"Liberation Serif", serif' fill="#555" textLength="3.6" lengthAdjust="spacingAndGlyphs">x</text>
<path d="M261.5 825.8h4.9M261.5 827.9h4.9" stroke="#5a5a5a" stroke-width="0.75"/>
<text x="266.7" y="830.5" font-size="10.3" font-family='"Liberation Sans", sans-serif' fill="#1a1a1a" font-weight="bold" textLength="6.1" lengthAdjust="spacingAndGlyphs">σ</text>
<text x="273.6" y="833.7" font-size="8" font-family='"Liberation Serif", serif' fill="#555" textLength="3.6" lengthAdjust="spacingAndGlyphs">y</text>
<path d="M277.9 825.8h4.9M277.9 827.9h4.9" stroke="#5a5a5a" stroke-width="0.75"/>
<text x="284.6" y="830.5" font-size="10.3" font-family='"Liberation Serif", serif' fill="#333" textLength="27.8" lengthAdjust="spacingAndGlyphs">50MPa</text>
<line x1="498" y1="644.9" x2="517.7" y2="644.9" stroke="#515151" stroke-width="1.0" stroke-opacity="1.0"/>
<rect x="505.01" y="642.11" width="5.58" height="5.58" fill="#515151"/>
<line x1="498" y1="659.1" x2="517.7" y2="659.1" stroke="#F14040" stroke-width="1.0" stroke-opacity="1.0"/>
<circle cx="507.8" cy="659.1" r="3.1" fill="#F14040"/>
<line x1="498" y1="673.2" x2="517.7" y2="673.2" stroke="#1A6FDF" stroke-width="1.0" stroke-opacity="1.0"/>
<path d="M507.8 669.54L511.15 675.93L504.45 675.93Z" fill="#1A6FDF"/>
<line x1="498" y1="687.3" x2="517.7" y2="687.3" stroke="#37AD6B" stroke-width="1.0" stroke-opacity="1.0"/>
<path d="M507.8 690.87L511.15 684.51L504.45 684.51Z" fill="#37AD6B"/>
<line x1="498" y1="702.2" x2="517.7" y2="702.2" stroke="#B177DE" stroke-width="1.0" stroke-opacity="1.0"/>
<path d="M507.8 698.54L511.27 702.2L507.8 705.86L504.33 702.2Z" fill="#B177DE"/>
<text x="522.1" y="648.6" font-size="9" font-family='"Liberation Sans", sans-serif' fill="#1a1a1a" font-weight="bold" textLength="5.7" lengthAdjust="spacingAndGlyphs">σ</text>
<text x="528.2" y="650.8" font-size="7.2" font-family='"Liberation Serif", serif' fill="#555" textLength="3.4" lengthAdjust="spacingAndGlyphs">x</text>
<path d="M531.8 644.2h3.9M531.8 646.4h3.9" stroke="#5a5a5a" stroke-width="0.75"/>
<text x="536.1" y="648.6" font-size="9" font-family='"Liberation Sans", sans-serif' fill="#1a1a1a" font-weight="bold" textLength="5.7" lengthAdjust="spacingAndGlyphs">σ</text>
<text x="542.3" y="650.8" font-size="7.2" font-family='"Liberation Serif", serif' fill="#555" textLength="3.4" lengthAdjust="spacingAndGlyphs">y</text>
<path d="M545.3 644.2h3.9M545.3 646.4h3.9" stroke="#5a5a5a" stroke-width="0.75"/>
<text x="550.1" y="648.6" font-size="9.4" font-family='"Liberation Serif", serif' fill="#333" textLength="22.8" lengthAdjust="spacingAndGlyphs">10MPa</text>
<text x="522.1" y="662.8" font-size="9" font-family='"Liberation Sans", sans-serif' fill="#1a1a1a" font-weight="bold" textLength="5.7" lengthAdjust="spacingAndGlyphs">σ</text>
<text x="528.2" y="665" font-size="7.2" font-family='"Liberation Serif", serif' fill="#555" textLength="3.4" lengthAdjust="spacingAndGlyphs">x</text>
<path d="M531.8 658.4h3.9M531.8 660.6h3.9" stroke="#5a5a5a" stroke-width="0.75"/>
<text x="536.1" y="662.8" font-size="9" font-family='"Liberation Sans", sans-serif' fill="#1a1a1a" font-weight="bold" textLength="5.7" lengthAdjust="spacingAndGlyphs">σ</text>
<text x="542.3" y="665" font-size="7.2" font-family='"Liberation Serif", serif' fill="#555" textLength="3.4" lengthAdjust="spacingAndGlyphs">y</text>
<path d="M545.3 658.4h3.9M545.3 660.6h3.9" stroke="#5a5a5a" stroke-width="0.75"/>
<text x="550.1" y="662.8" font-size="9.4" font-family='"Liberation Serif", serif' fill="#333" textLength="22.8" lengthAdjust="spacingAndGlyphs">20MPa</text>
<text x="522.1" y="676.9" font-size="9" font-family='"Liberation Sans", sans-serif' fill="#1a1a1a" font-weight="bold" textLength="5.7" lengthAdjust="spacingAndGlyphs">σ</text>
<text x="528.2" y="679.1" font-size="7.2" font-family='"Liberation Serif", serif' fill="#555" textLength="3.4" lengthAdjust="spacingAndGlyphs">x</text>
<path d="M531.8 672.5h3.9M531.8 674.7h3.9" stroke="#5a5a5a" stroke-width="0.75"/>
<text x="536.1" y="676.9" font-size="9" font-family='"Liberation Sans", sans-serif' fill="#1a1a1a" font-weight="bold" textLength="5.7" lengthAdjust="spacingAndGlyphs">σ</text>
<text x="542.3" y="679.1" font-size="7.2" font-family='"Liberation Serif", serif' fill="#555" textLength="3.4" lengthAdjust="spacingAndGlyphs">y</text>
<path d="M545.3 672.5h3.9M545.3 674.7h3.9" stroke="#5a5a5a" stroke-width="0.75"/>
<text x="550.1" y="676.9" font-size="9.4" font-family='"Liberation Serif", serif' fill="#333" textLength="22.8" lengthAdjust="spacingAndGlyphs">30MPa</text>
<text x="522.1" y="691" font-size="9" font-family='"Liberation Sans", sans-serif' fill="#1a1a1a" font-weight="bold" textLength="5.7" lengthAdjust="spacingAndGlyphs">σ</text>
<text x="528.2" y="693.2" font-size="7.2" font-family='"Liberation Serif", serif' fill="#555" textLength="3.4" lengthAdjust="spacingAndGlyphs">x</text>
<path d="M531.8 686.6h3.9M531.8 688.8h3.9" stroke="#5a5a5a" stroke-width="0.75"/>
<text x="536.1" y="691" font-size="9" font-family='"Liberation Sans", sans-serif' fill="#1a1a1a" font-weight="bold" textLength="5.7" lengthAdjust="spacingAndGlyphs">σ</text>
<text x="542.3" y="693.2" font-size="7.2" font-family='"Liberation Serif", serif' fill="#555" textLength="3.4" lengthAdjust="spacingAndGlyphs">y</text>
<path d="M545.3 686.6h3.9M545.3 688.8h3.9" stroke="#5a5a5a" stroke-width="0.75"/>
<text x="550.1" y="691" font-size="9.4" font-family='"Liberation Serif", serif' fill="#333" textLength="22.8" lengthAdjust="spacingAndGlyphs">40MPa</text>
<text x="522.1" y="705.9" font-size="9" font-family='"Liberation Sans", sans-serif' fill="#1a1a1a" font-weight="bold" textLength="5.7" lengthAdjust="spacingAndGlyphs">σ</text>
<text x="528.2" y="708.1" font-size="7.2" font-family='"Liberation Serif", serif' fill="#555" textLength="3.4" lengthAdjust="spacingAndGlyphs">x</text>
<path d="M531.8 701.5h3.9M531.8 703.7h3.9" stroke="#5a5a5a" stroke-width="0.75"/>
<text x="536.1" y="705.9" font-size="9" font-family='"Liberation Sans", sans-serif' fill="#1a1a1a" font-weight="bold" textLength="5.7" lengthAdjust="spacingAndGlyphs">σ</text>
<text x="542.3" y="708.1" font-size="7.2" font-family='"Liberation Serif", serif' fill="#555" textLength="3.4" lengthAdjust="spacingAndGlyphs">y</text>
<path d="M545.3 701.5h3.9M545.3 703.7h3.9" stroke="#5a5a5a" stroke-width="0.75"/>
<text x="550.1" y="705.9" font-size="9.4" font-family='"Liberation Serif", serif' fill="#333" textLength="22.8" lengthAdjust="spacingAndGlyphs">50MPa</text>
</svg></body></html>
